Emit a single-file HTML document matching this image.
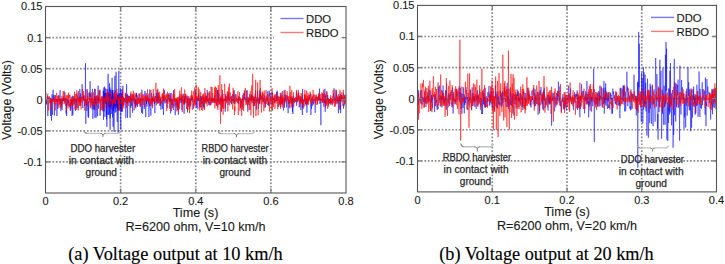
<!DOCTYPE html>
<html><head><meta charset="utf-8"><style>
html,body{margin:0;padding:0;background:#fff;}
body{width:725px;height:264px;overflow:hidden;}
svg{display:block;}
text{font-family:"Liberation Sans",sans-serif;fill:#1a1a1a;stroke:#1a1a1a;stroke-width:0.12px;}
.t11{font-size:11px;}
.t125{font-size:12.6px;}
.ylab{font-size:12.4px;}
.ann{font-size:10px;fill:#2a2a2a;stroke:#2a2a2a;stroke-width:0.25px;}
.cap{font-family:"Liberation Serif",serif;font-size:18px;fill:#000;stroke:#000;stroke-width:0.15px;}
</style></head><body>
<svg width="725" height="264" viewBox="0 0 725 264">
<rect width="725" height="264" fill="#fff"/>
<path d="M120.62 6.50V193.00M195.75 6.50V193.00M270.88 6.50V193.00M45.50 37.58H346.00M45.50 68.67H346.00M45.50 99.75H346.00M45.50 130.83H346.00M45.50 161.92H346.00" stroke="#8a8a8a" stroke-width="1.7" stroke-dasharray="1.7 1.75" fill="none"/>
<polyline points="103.0,98.9 103.1,104.0 103.3,97.0 103.4,97.3 103.6,96.9 103.7,96.0 103.9,91.3 104.0,98.2 104.1,111.3 104.3,100.3 104.4,94.3 104.6,96.4 104.7,99.2 104.9,98.3 105.0,116.9 105.1,97.4 105.3,93.1 105.4,101.1 105.6,93.2 105.7,97.1 105.9,103.4 106.0,100.7 106.1,103.7 106.3,102.1 106.4,92.9 106.6,119.3 106.7,105.8 106.9,101.0 107.0,99.2 107.1,114.9 107.3,102.3 107.4,99.7 107.6,89.3 107.7,90.2 107.9,94.6 108.0,96.5 108.1,100.9 108.3,97.7 108.4,92.6 108.6,111.7 108.7,115.1 108.9,98.1 109.0,97.7 109.1,99.6 109.3,107.7 109.4,93.8 109.6,101.7 109.7,91.4 109.9,87.6 110.0,97.8 110.1,118.4 110.3,90.3 110.4,106.9 110.6,99.3 110.7,105.2 110.9,105.0 111.0,95.6 111.1,89.5 111.3,98.4 111.4,98.1 111.6,106.6 111.7,114.0 111.9,107.3 112.0,96.2 112.1,99.4 112.3,105.7 112.4,99.9 112.6,90.0 112.7,108.7 112.9,90.1 113.0,99.1 113.1,126.8 113.3,98.6 113.4,110.7 113.6,96.5 113.7,106.3 113.9,103.3 114.0,107.3 114.1,96.9 114.3,93.6 114.4,94.3 114.6,106.2 114.7,98.8 114.9,99.4 115.0,110.6 115.1,112.8 115.3,98.1 115.4,100.4 115.6,97.8 115.7,101.6 115.9,111.9 116.0,96.5 116.1,99.8 116.3,104.9 116.4,97.8 116.6,104.7 116.7,99.5 116.9,102.3 117.0,95.0 117.1,119.3 117.3,122.0 117.4,103.4 117.6,94.9 117.7,100.3 117.9,111.1 118.0,99.1 118.1,105.6 118.3,99.1 118.4,109.9 118.6,95.1 118.7,101.8 118.9,105.7 119.0,104.5 119.1,93.0 119.3,97.7 119.4,94.4 119.6,103.7 119.7,97.0 119.9,96.8 120.0,109.5 120.1,99.0 120.3,88.2 120.4,101.5 120.6,96.8 120.7,109.4 120.9,96.9 121.0,93.5 121.1,110.9 121.3,109.0 121.4,102.2 121.6,111.7 121.7,94.2 121.9,94.3 122.0,98.9 122.1,93.0 122.3,111.7 122.4,107.6 122.6,91.8 122.7,96.4 122.9,103.4 123.0,98.2" stroke="#0000ff" stroke-width="0.55" stroke-opacity="0.9" fill="none"/>
<polyline points="45.5,102.6 45.8,92.3 46.1,103.1 46.4,100.7 46.6,104.5 46.9,99.5 47.2,100.2 47.5,96.3 47.8,116.0 48.1,104.8 48.4,99.2 48.6,97.6 48.9,99.1 49.2,99.7 49.5,102.5 49.8,103.2 50.1,103.0 50.4,98.0 50.6,116.0 50.9,108.4 51.2,98.6 51.5,120.8 51.8,95.5 52.1,94.2 52.4,114.8 52.6,99.7 52.9,92.6 53.2,89.7 53.5,100.1 53.8,95.3 54.1,99.5 54.4,115.5 54.6,99.4 54.9,99.4 55.2,95.0 55.5,97.3 55.8,100.8 56.1,100.4 56.4,99.4 56.6,99.0 56.9,116.0 57.2,101.5 57.5,99.0 57.8,108.9 58.1,100.3 58.4,99.0 58.6,95.3 58.9,98.7 59.2,100.2 59.5,101.1 59.8,98.4 60.1,90.2 60.4,103.8 60.6,99.1 60.9,111.1 61.2,98.9 61.5,106.1 61.8,100.8 62.1,109.9 62.4,98.1 62.6,99.9 62.9,101.0 63.2,101.2 63.5,97.0 63.8,100.7 64.1,99.5 64.4,103.6 64.6,96.9 64.9,92.2 65.2,99.7 65.5,98.0 65.8,99.2 66.1,113.8 66.4,101.9 66.6,116.0 66.9,105.3 67.2,99.3 67.5,99.8 67.8,105.5 68.1,99.9 68.4,102.9 68.6,101.6 68.9,100.1 69.2,106.1 69.5,106.1 69.8,107.2 70.1,101.8 70.4,110.7 70.6,102.3 70.9,109.2 71.2,96.7 71.5,103.9 71.8,100.1 72.1,116.0 72.4,95.7 72.6,106.0 72.9,114.8 73.2,100.2 73.5,99.9 73.8,97.7 74.1,96.0 74.4,104.3 74.6,98.8 74.9,101.4 75.2,99.0 75.5,110.9 75.8,102.5 76.1,101.6 76.4,99.1 76.6,107.5 76.9,93.1 77.2,97.0 77.5,99.3 77.8,108.3 78.1,105.6 78.4,98.7 78.6,97.9 78.9,99.0 79.2,96.7 79.5,101.5 79.8,89.0 80.1,99.5 80.4,93.3 80.6,105.6 80.9,101.5 81.2,99.7 81.5,97.8 81.8,94.2 82.1,84.2 82.4,96.5 82.6,104.6 82.9,108.0 83.2,95.7 83.5,97.5 83.8,99.7 84.1,95.1 84.4,98.6 84.6,106.0 84.9,104.8 85.2,102.4 85.5,63.2 85.8,123.8 86.1,99.2 86.4,104.9 86.6,102.2 86.9,110.9 87.2,89.1 87.5,95.9 87.8,106.5 88.1,116.8 88.4,101.0 88.6,117.8 88.9,103.8 89.2,101.8 89.5,92.6 89.8,99.4 90.1,81.2 90.4,97.3 90.6,93.6 90.9,93.8 91.2,101.9 91.5,99.2 91.8,103.6 92.1,109.4 92.4,89.0 92.6,88.8 92.9,118.8 93.2,101.6 93.5,105.1 93.8,109.5 94.1,98.4 94.4,109.6 94.6,88.8 94.9,117.8 95.2,96.6 95.5,103.8 95.8,96.3 96.1,117.8 96.4,102.4 96.6,96.7 96.9,95.4 97.2,96.9 97.5,116.3 97.8,98.6 98.1,85.8 98.4,108.7 98.6,97.4 98.9,100.9 99.2,90.2 99.5,94.2 99.8,99.0 100.1,115.8 100.4,102.1 100.6,100.3 100.9,100.4 101.2,98.7 101.5,97.0 101.8,98.0 102.1,96.9 102.4,101.0 102.6,105.7 102.9,111.3 103.2,90.5 103.5,119.8 103.8,87.5 104.1,102.4 104.4,101.6 104.6,86.6 104.9,101.9 105.2,97.9 105.5,88.5 105.8,89.9 106.1,103.8 106.4,99.6 106.6,108.8 106.9,126.8 107.2,105.3 107.5,105.3 107.8,98.4 108.1,73.8 108.4,106.1 108.6,94.4 108.9,98.5 109.2,114.2 109.5,83.2 109.8,100.3 110.1,129.8 110.4,97.3 110.6,95.2 110.9,93.9 111.2,109.3 111.5,98.5 111.8,91.3 112.1,77.8 112.4,95.2 112.6,117.4 112.9,109.4 113.2,93.5 113.5,107.0 113.8,126.8 114.1,131.8 114.4,110.5 114.6,89.1 114.9,75.8 115.2,109.1 115.5,90.6 115.8,91.7 116.1,71.8 116.4,99.7 116.6,107.8 116.9,101.8 117.2,92.8 117.5,108.3 117.8,94.9 118.1,132.8 118.4,109.3 118.6,78.2 118.9,70.8 119.2,97.9 119.5,99.4 119.8,96.8 120.1,102.0 120.4,106.1 120.6,126.7 120.9,129.8 121.2,89.6 121.5,106.3 121.8,100.1 122.1,98.8 122.4,98.8 122.6,95.0 122.9,85.8 123.2,103.7 123.5,97.6 123.8,105.4 124.1,101.5 124.4,98.1 124.6,98.4 124.9,100.6 125.2,102.4 125.5,93.4 125.8,117.8 126.1,100.2 126.4,97.2 126.6,84.1 126.9,103.6 127.2,93.9 127.5,117.8 127.8,95.6 128.1,95.3 128.4,98.7 128.6,96.4 128.9,102.8 129.2,97.0 129.5,95.9 129.8,107.7 130.1,117.8 130.4,93.9 130.6,100.4 130.9,107.8 131.2,97.8 131.5,105.8 131.8,104.5 132.1,93.7 132.4,101.3 132.6,112.8 132.9,99.6 133.2,98.4 133.5,95.6 133.8,96.4 134.1,100.2 134.4,104.0 134.6,97.8 134.9,98.8 135.2,106.9 135.5,99.4 135.8,108.4 136.1,93.6 136.4,97.4 136.6,92.8 136.9,105.3 137.2,101.8 137.5,106.9 137.8,97.4 138.1,100.3 138.4,99.4 138.6,96.3 138.9,94.9 139.2,93.5 139.5,101.0 139.8,99.4 140.1,106.4 140.4,98.4 140.6,102.0 140.9,97.8 141.2,106.1 141.5,112.7 141.8,89.6 142.1,93.0 142.4,98.2 142.6,113.8 142.9,98.6 143.2,97.9 143.5,97.7 143.8,100.9 144.1,107.9 144.4,109.0 144.6,100.7 144.9,90.9 145.2,99.9 145.5,103.8 145.8,117.1 146.1,93.0 146.4,103.8 146.6,99.4 146.9,106.5 147.2,100.2 147.5,100.5 147.8,95.4 148.1,101.0 148.4,103.5 148.6,97.7 148.9,117.0 149.2,103.2 149.5,106.2 149.8,89.6 150.1,108.6 150.4,109.4 150.6,108.8 150.9,115.6 151.2,103.5 151.5,93.1 151.8,97.5 152.1,106.5 152.4,97.8 152.6,98.8 152.9,101.5 153.2,99.5 153.5,100.4 153.8,93.7 154.1,99.5 154.4,104.1 154.6,99.6 154.9,113.2 155.2,101.1 155.5,96.1 155.8,98.9 156.1,100.7 156.4,101.6 156.6,92.9 156.9,101.2 157.2,89.8 157.5,103.7 157.8,97.1 158.1,100.0 158.4,93.2 158.6,103.4 158.9,101.3 159.2,95.4 159.5,99.7 159.8,102.0 160.1,105.9 160.4,99.1 160.6,98.2 160.9,109.7 161.2,104.7 161.5,101.3 161.8,100.5 162.1,99.8 162.4,108.8 162.6,99.4 162.9,94.7 163.2,97.1 163.5,114.8 163.8,92.0 164.1,93.5 164.4,89.8 164.6,92.8 164.9,103.5 165.2,100.6 165.5,98.3 165.8,99.4 166.1,102.8 166.4,101.9 166.6,99.3 166.9,102.7 167.2,108.2 167.5,99.7 167.8,94.8 168.1,96.5 168.4,99.8 168.6,93.4 168.9,96.0 169.2,102.0 169.5,98.4 169.8,102.1 170.1,98.6 170.4,94.6 170.6,113.4 170.9,94.7 171.2,92.9 171.5,99.2 171.8,105.0 172.1,99.0 172.4,108.2 172.6,99.4 172.9,99.1 173.2,97.7 173.5,90.1 173.8,103.0 174.1,106.4 174.4,97.9 174.6,97.7 174.9,102.1 175.2,115.2 175.5,104.6 175.8,99.7 176.1,101.6 176.4,99.3 176.6,102.9 176.9,107.5 177.2,100.5 177.5,110.0 177.8,101.7 178.1,100.4 178.4,114.7 178.6,105.2 178.9,100.7 179.2,96.2 179.5,99.4 179.8,103.5 180.1,101.5 180.4,98.1 180.6,100.3 180.9,100.4 181.2,103.1 181.5,96.8 181.8,109.9 182.1,106.9 182.4,100.3 182.6,101.2 182.9,100.9 183.2,93.6 183.5,97.0 183.8,99.6 184.1,113.8 184.4,96.1 184.6,104.3 184.9,101.7 185.2,94.2 185.5,99.0 185.8,99.2 186.1,96.9 186.4,97.3 186.6,96.9 186.9,96.3 187.2,96.0 187.5,112.5 187.8,97.6 188.1,103.6 188.4,105.3 188.6,102.4 188.9,106.9 189.2,98.0 189.5,103.0 189.8,102.6 190.1,101.9 190.4,98.5 190.6,104.7 190.9,104.8 191.2,95.3 191.5,96.9 191.8,99.3 192.1,97.5 192.4,100.0 192.6,97.4 192.9,98.6 193.2,98.9 193.5,108.7 193.8,103.8 194.1,101.8 194.4,100.7 194.6,102.8 194.9,100.1 195.2,100.2 195.5,90.5 195.8,98.9 196.1,98.6 196.4,107.8 196.6,98.2 196.9,97.1 197.2,99.9 197.5,98.7 197.8,109.3 198.1,97.9 198.4,101.0 198.6,93.1 198.9,94.4 199.2,97.9 199.5,107.0 199.8,100.5 200.1,100.5 200.4,99.6 200.6,96.0 200.9,107.6 201.2,96.1 201.5,103.8 201.8,98.0 202.1,99.0 202.4,96.2 202.6,99.2 202.9,103.5 203.2,101.3 203.5,107.2 203.8,99.0 204.1,108.7 204.4,100.9 204.6,100.1 204.9,101.7 205.2,97.6 205.5,97.1 205.8,100.7 206.1,99.5 206.4,95.7 206.6,100.9 206.9,100.5 207.2,89.9 207.5,101.9 207.8,101.4 208.1,97.8 208.4,102.6 208.6,101.3 208.9,105.0 209.2,102.2 209.5,103.7 209.8,91.1 210.1,95.4 210.4,97.1 210.6,101.8 210.9,105.1 211.2,99.0 211.5,100.6 211.8,97.8 212.1,102.9 212.4,102.7 212.6,99.2 212.9,99.7 213.2,98.1 213.5,100.8 213.8,100.0 214.1,102.7 214.4,95.3 214.6,99.3 214.9,99.6 215.2,103.1 215.5,100.8 215.8,100.1 216.1,99.2 216.4,100.4 216.6,105.9 216.9,99.6 217.2,98.5 217.5,90.0 217.8,102.1 218.1,90.1 218.4,101.9 218.6,99.6 218.9,93.5 219.2,98.3 219.5,98.2 219.8,99.9 220.1,104.8 220.4,99.0 220.6,97.5 220.9,101.9 221.2,98.5 221.5,111.7 221.8,99.6 222.1,96.8 222.4,101.2 222.6,106.7 222.9,93.6 223.2,101.5 223.5,101.4 223.8,99.1 224.1,100.5 224.4,99.2 224.6,99.1 224.9,98.7 225.2,111.7 225.5,94.2 225.8,98.4 226.1,96.4 226.4,98.8 226.6,99.2 226.9,101.5 227.2,96.2 227.5,98.5 227.8,92.0 228.1,104.8 228.4,93.1 228.6,98.7 228.9,100.1 229.2,101.1 229.5,97.7 229.8,98.3 230.1,99.6 230.4,97.2 230.6,98.7 230.9,97.6 231.2,96.3 231.5,104.3 231.8,99.3 232.1,100.9 232.4,98.3 232.6,94.1 232.9,98.8 233.2,99.1 233.5,99.8 233.8,102.7 234.1,90.2 234.4,103.7 234.6,100.6 234.9,103.6 235.2,94.1 235.5,97.0 235.8,98.2 236.1,99.6 236.4,98.6 236.6,98.8 236.9,98.3 237.2,100.4 237.5,99.0 237.8,98.6 238.1,100.3 238.4,104.0 238.6,96.4 238.9,98.4 239.2,99.6 239.5,99.6 239.8,97.3 240.1,98.7 240.4,99.7 240.6,107.7 240.9,100.8 241.2,99.2 241.5,103.1 241.8,101.4 242.1,109.9 242.4,103.3 242.6,98.3 242.9,100.9 243.2,93.9 243.5,93.1 243.8,100.3 244.1,98.7 244.4,90.3 244.6,99.2 244.9,96.6 245.2,99.8 245.5,98.4 245.8,102.2 246.1,102.6 246.4,102.7 246.6,90.4 246.9,101.3 247.2,101.1 247.5,104.0 247.8,111.6 248.1,100.4 248.4,102.2 248.6,98.5 248.9,104.7 249.2,99.0 249.5,98.7 249.8,97.8 250.1,99.6 250.4,100.1 250.6,99.4 250.9,95.7 251.2,100.4 251.5,94.2 251.8,100.8 252.1,95.4 252.4,96.3 252.6,96.3 252.9,101.2 253.2,106.4 253.5,97.5 253.8,104.2 254.1,106.1 254.4,99.4 254.6,96.7 254.9,99.2 255.2,102.9 255.5,90.5 255.8,96.6 256.1,97.0 256.4,109.5 256.6,99.9 256.9,99.4 257.2,101.0 257.5,90.5 257.8,98.7 258.1,97.6 258.4,98.5 258.6,105.6 258.9,98.8 259.2,103.2 259.5,90.5 259.8,104.0 260.1,95.4 260.4,99.2 260.6,92.4 260.9,97.9 261.2,98.7 261.5,97.5 261.8,97.1 262.1,99.1 262.4,98.5 262.6,99.6 262.9,93.8 263.2,99.5 263.5,102.1 263.8,100.6 264.1,98.0 264.4,95.3 264.6,100.0 264.9,103.6 265.2,100.9 265.5,107.0 265.8,101.9 266.1,96.3 266.4,99.7 266.6,99.4 266.9,101.4 267.2,101.1 267.5,99.7 267.8,91.2 268.1,102.5 268.4,105.5 268.6,101.6 268.9,106.2 269.2,90.6 269.5,91.7 269.8,96.5 270.1,93.3 270.4,97.5 270.6,98.4 270.9,103.7 271.2,101.4 271.5,98.6 271.8,93.5 272.1,91.8 272.4,96.2 272.6,104.7 272.9,96.7 273.2,99.5 273.5,98.6 273.8,99.8 274.1,98.4 274.4,102.6 274.6,100.6 274.9,101.2 275.2,100.2 275.5,101.8 275.8,99.1 276.1,96.5 276.4,100.9 276.6,92.0 276.9,99.2 277.2,90.7 277.5,97.1 277.8,97.0 278.1,103.3 278.4,106.9 278.6,102.3 278.9,100.2 279.2,96.7 279.5,96.9 279.8,98.5 280.1,103.1 280.4,97.8 280.6,97.1 280.9,103.1 281.2,92.6 281.5,102.1 281.8,96.2 282.1,104.8 282.4,101.7 282.6,100.3 282.9,97.9 283.2,106.7 283.5,110.4 283.8,105.9 284.1,90.4 284.4,107.6 284.6,100.9 284.9,102.1 285.2,94.2 285.5,101.0 285.8,100.0 286.1,95.4 286.4,100.8 286.6,107.4 286.9,102.9 287.2,95.3 287.5,98.5 287.8,99.6 288.1,113.2 288.4,99.4 288.6,101.7 288.9,103.6 289.2,100.1 289.5,100.7 289.8,108.3 290.1,100.6 290.4,98.1 290.6,98.5 290.9,96.8 291.2,103.6 291.5,99.2 291.8,96.3 292.1,99.3 292.4,111.6 292.6,98.4 292.9,114.1 293.2,95.8 293.5,98.6 293.8,100.4 294.1,102.1 294.4,98.2 294.6,102.8 294.9,101.6 295.2,100.9 295.5,101.2 295.8,101.2 296.1,96.3 296.4,91.4 296.6,105.7 296.9,97.9 297.2,98.1 297.5,102.3 297.8,101.3 298.1,96.3 298.4,98.1 298.6,92.7 298.9,98.0 299.2,107.4 299.5,103.7 299.8,100.2 300.1,99.5 300.4,101.8 300.6,96.3 300.9,110.0 301.2,99.9 301.5,97.7 301.8,97.8 302.1,104.7 302.4,115.0 302.6,88.9 302.9,107.6 303.2,105.2 303.5,99.5 303.8,102.0 304.1,100.9 304.4,99.0 304.6,99.3 304.9,95.4 305.2,100.6 305.5,104.1 305.8,101.1 306.1,105.6 306.4,99.3 306.6,99.8 306.9,112.7 307.2,99.7 307.5,103.2 307.8,100.3 308.1,101.4 308.4,100.3 308.6,99.3 308.9,97.4 309.2,94.9 309.5,98.0 309.8,99.0 310.1,97.1 310.4,93.6 310.6,93.6 310.9,115.0 311.2,102.1 311.5,108.7 311.8,98.0 312.1,100.5 312.4,105.7 312.6,100.5 312.9,99.7 313.2,101.4 313.5,104.4 313.8,99.6 314.1,99.5 314.4,100.3 314.6,98.5 314.9,104.5 315.2,112.8 315.5,102.9 315.8,98.1 316.1,95.4 316.4,98.3 316.6,97.6 316.9,97.9 317.2,100.0 317.5,100.0 317.8,97.2 318.1,98.9 318.4,98.2 318.6,97.6 318.9,95.2 319.2,99.7 319.5,88.7 319.8,103.8 320.1,101.8 320.4,98.2 320.6,104.0 320.9,125.2 321.2,103.0 321.5,99.6 321.8,98.8 322.1,94.5 322.4,93.3 322.6,101.3 322.9,100.1 323.2,93.9 323.5,101.5 323.8,106.7 324.1,100.0 324.4,100.0 324.6,103.3 324.9,88.8 325.2,111.9 325.5,96.9 325.8,95.3 326.1,104.8 326.4,91.5 326.6,94.7 326.9,95.1 327.2,97.8 327.5,99.3 327.8,95.3 328.1,100.3 328.4,104.7 328.6,99.4 328.9,101.4 329.2,103.4 329.5,99.0 329.8,103.2 330.1,100.3 330.4,97.6 330.6,97.9 330.9,104.8 331.2,102.8 331.5,101.9 331.8,100.2 332.1,100.6 332.4,99.0 332.6,99.2 332.9,103.8 333.2,102.0 333.5,93.6 333.8,96.8 334.1,88.3 334.4,95.7 334.6,101.1 334.9,96.9 335.2,100.0 335.5,101.9 335.8,102.3 336.1,103.4 336.4,91.7 336.6,97.5 336.9,95.0 337.2,101.4 337.5,99.9 337.8,103.5 338.1,98.4 338.4,113.2 338.6,94.2 338.9,94.6 339.2,100.7 339.5,96.6 339.8,106.2 340.1,110.0 340.4,95.8 340.6,113.2 340.9,101.3 341.2,95.3 341.5,98.8 341.8,97.1 342.1,98.6 342.4,99.3 342.6,98.7 342.9,101.2 343.2,92.7 343.5,108.5 343.8,104.0 344.1,105.7 344.4,104.6 344.6,94.7 344.9,100.0 345.2,101.8 345.5,98.8 345.8,101.8" stroke="#0000ff" stroke-width="0.55" stroke-opacity="0.9" fill="none"/>
<polyline points="45.5,101.8 45.7,96.3 45.9,99.7 46.1,100.8 46.3,103.5 46.5,102.3 46.7,99.3 46.9,100.3 47.1,99.9 47.3,100.0 47.5,98.5 47.7,93.9 47.9,99.9 48.1,97.5 48.3,110.5 48.5,99.4 48.7,99.3 48.9,96.7 49.1,96.0 49.3,100.3 49.5,98.1 49.7,96.9 49.9,98.2 50.1,103.8 50.3,110.5 50.5,98.4 50.7,103.4 50.9,99.4 51.1,101.2 51.3,105.0 51.5,99.8 51.7,101.5 51.9,99.0 52.1,101.3 52.3,100.1 52.5,100.4 52.7,99.6 52.9,101.1 53.1,99.6 53.3,99.0 53.5,101.8 53.7,101.8 53.9,100.3 54.1,98.3 54.3,104.1 54.5,99.7 54.7,95.1 54.9,98.9 55.1,99.9 55.3,110.5 55.5,97.5 55.7,101.0 55.9,105.4 56.1,100.6 56.3,101.8 56.5,100.7 56.7,92.7 56.9,100.8 57.1,100.8 57.3,102.0 57.5,95.9 57.7,98.7 57.9,103.4 58.1,100.2 58.3,98.0 58.5,101.6 58.7,102.3 58.9,107.7 59.1,95.2 59.3,102.6 59.5,104.7 59.7,98.4 59.9,104.0 60.1,99.8 60.3,107.1 60.5,106.9 60.7,102.2 60.9,98.2 61.1,98.4 61.3,108.3 61.5,102.2 61.7,100.2 61.9,95.9 62.1,98.9 62.3,101.0 62.5,99.3 62.7,100.9 62.9,104.3 63.1,91.1 63.3,99.7 63.5,97.9 63.7,96.3 63.9,98.9 64.1,90.7 64.3,98.3 64.5,99.0 64.7,100.5 64.9,101.9 65.1,99.2 65.3,102.7 65.5,98.8 65.7,105.8 65.9,100.6 66.1,95.2 66.3,103.3 66.5,110.5 66.7,96.1 66.9,95.6 67.1,97.6 67.3,98.6 67.5,100.6 67.7,98.8 67.9,94.6 68.1,108.4 68.3,101.3 68.5,92.6 68.7,100.2 68.9,105.6 69.1,94.9 69.3,96.7 69.5,98.1 69.7,98.2 69.9,94.6 70.1,99.0 70.3,110.5 70.5,99.9 70.7,106.3 70.9,101.2 71.1,98.6 71.3,106.1 71.5,100.5 71.7,99.7 71.9,99.7 72.1,100.3 72.3,98.6 72.5,99.1 72.7,106.0 72.9,100.1 73.1,97.3 73.3,102.1 73.5,104.8 73.7,96.6 73.9,96.6 74.1,101.4 74.3,95.8 74.5,91.6 74.7,105.9 74.9,109.6 75.1,98.0 75.3,102.7 75.5,94.0 75.7,99.5 75.9,99.5 76.1,99.7 76.3,100.1 76.5,102.8 76.7,110.0 76.9,90.3 77.1,100.6 77.3,97.7 77.5,95.3 77.7,97.3 77.9,98.9 78.1,102.7 78.3,110.5 78.5,91.2 78.7,100.9 78.9,102.6 79.1,99.7 79.3,101.8 79.5,105.3 79.7,98.4 79.9,106.0 80.1,97.7 80.3,102.8 80.5,98.3 80.7,101.3 80.9,100.2 81.1,109.4 81.3,98.8 81.5,100.1 81.7,96.6 81.9,102.3 82.1,97.0 82.3,98.6 82.5,89.0 82.7,97.5 82.9,99.2 83.1,99.0 83.3,98.3 83.5,91.0 83.7,101.0 83.9,101.3 84.1,96.5 84.3,96.2 84.5,100.7 84.7,110.5 84.9,99.2 85.1,100.8 85.3,98.9 85.5,103.0 85.7,96.9 85.9,89.7 86.1,91.0 86.3,97.8 86.5,103.7 86.7,100.6 86.9,103.8 87.1,103.2 87.3,95.8 87.5,98.6 87.7,106.7 87.9,101.3 88.1,92.4 88.3,94.0 88.5,98.6 88.7,98.1 88.9,99.6 89.1,98.6 89.3,100.2 89.5,98.2 89.7,102.7 89.9,99.3 90.1,106.0 90.3,108.2 90.5,98.3 90.7,107.4 90.9,102.3 91.1,100.7 91.3,92.3 91.5,96.7 91.7,105.5 91.9,96.5 92.1,99.7 92.3,98.3 92.5,100.0 92.7,102.1 92.9,105.6 93.1,102.3 93.3,93.8 93.5,92.5 93.7,104.8 93.9,102.8 94.1,99.0 94.3,104.8 94.5,102.1 94.7,103.3 94.9,96.4 95.1,98.7 95.3,99.3 95.5,89.0 95.7,96.8 95.9,110.4 96.1,100.4 96.3,106.0 96.5,99.0 96.7,96.3 96.9,102.4 97.1,104.1 97.3,95.4 97.5,95.3 97.7,99.2 97.9,96.7 98.1,99.4 98.3,98.1 98.5,102.4 98.7,102.1 98.9,92.3 99.1,93.3 99.3,91.0 99.5,101.0 99.7,103.2 99.9,99.0 100.1,89.6 100.3,99.1 100.5,105.2 100.7,110.5 100.9,101.6 101.1,98.5 101.3,109.9 101.5,96.3 101.7,99.0 101.9,99.5 102.1,101.8 102.3,108.3 102.5,96.2 102.7,104.5 102.9,110.5 103.1,103.3 103.3,99.2 103.5,97.9 103.7,99.0 103.9,100.4 104.1,101.0 104.3,103.4 104.5,98.0 104.7,100.5 104.9,107.5 105.1,96.4 105.3,97.3 105.5,101.0 105.7,99.2 105.9,95.6 106.1,92.8 106.3,100.0 106.5,102.7 106.7,97.2 106.9,89.0 107.1,92.2 107.3,100.8 107.5,100.6 107.7,98.8 107.9,99.2 108.1,109.1 108.3,96.3 108.5,99.9 108.7,99.3 108.9,101.6 109.1,99.1 109.3,92.2 109.5,95.6 109.7,98.6 109.9,101.6 110.1,105.5 110.3,99.5 110.5,100.9 110.7,91.9 110.9,101.0 111.1,99.2 111.3,100.7 111.5,100.7 111.7,100.1 111.9,100.3 112.1,104.0 112.3,101.6 112.5,101.4 112.7,107.5 112.9,99.4 113.1,103.5 113.3,100.7 113.5,97.7 113.7,99.5 113.9,100.6 114.1,103.3 114.3,91.9 114.5,103.5 114.7,96.0 114.9,92.8 115.1,101.6 115.3,104.1 115.5,98.6 115.7,95.6 115.9,93.2 116.1,98.2 116.3,95.8 116.5,99.3 116.7,100.2 116.9,89.0 117.1,97.8 117.3,98.6 117.5,99.4 117.7,98.8 117.9,100.2 118.1,103.8 118.3,105.1 118.5,98.9 118.7,110.5 118.9,95.7 119.1,104.7 119.3,99.5 119.5,110.5 119.7,99.4 119.9,95.4 120.1,97.7 120.3,99.1 120.5,98.0 120.7,99.2 120.9,99.4 121.1,97.7 121.3,103.9 121.5,103.6 121.7,99.2 121.9,98.1 122.1,93.5 122.3,110.5 122.5,89.0 122.7,106.8 122.9,104.5 123.1,96.5 123.3,105.8 123.5,97.2 123.7,102.9 123.9,108.6 124.1,101.0 124.3,98.9 124.5,102.1 124.7,99.5 124.9,100.4 125.1,100.3 125.3,93.0 125.5,100.5 125.7,98.1 125.9,100.4 126.1,101.1 126.3,101.9 126.5,107.9 126.7,99.8 126.9,100.1 127.1,94.8 127.3,103.7 127.5,101.7 127.7,101.7 127.9,96.0 128.1,103.0 128.3,106.1 128.5,97.3 128.7,100.4 128.9,100.0 129.1,99.3 129.3,96.7 129.5,101.6 129.7,98.2 129.9,99.9 130.1,100.1 130.3,96.5 130.5,102.3 130.7,99.0 130.9,91.6 131.1,97.6 131.3,104.5 131.5,104.3 131.7,97.3 131.9,97.1 132.1,95.3 132.3,99.3 132.5,94.1 132.7,96.3 132.9,99.0 133.1,97.7 133.3,90.6 133.5,99.7 133.7,101.9 133.9,94.4 134.1,110.5 134.3,102.0 134.5,98.6 134.7,99.8 134.9,92.8 135.1,96.8 135.3,96.1 135.5,95.3 135.7,102.6 135.9,105.7 136.1,100.4 136.3,101.2 136.5,104.8 136.7,99.4 136.9,100.9 137.1,101.4 137.3,94.8 137.5,104.3 137.7,99.4 137.9,100.2 138.1,98.2 138.3,103.7 138.5,100.2 138.7,100.6 138.9,104.1 139.1,97.0 139.3,93.7 139.5,102.5 139.7,98.8 139.9,103.3 140.1,98.5 140.3,106.9 140.5,100.4 140.7,105.8 140.9,92.6 141.1,100.8 141.3,98.8 141.5,100.3 141.7,94.3 141.9,95.5 142.1,96.7 142.3,102.5 142.5,102.0 142.7,99.4 142.9,94.9 143.1,104.1 143.3,105.0 143.5,100.9 143.7,94.4 143.9,95.7 144.1,97.0 144.3,97.8 144.5,106.9 144.7,102.8 144.9,97.8 145.1,96.5 145.3,101.1 145.5,100.2 145.7,94.9 145.9,100.3 146.1,96.7 146.3,100.0 146.5,100.5 146.7,95.8 146.9,98.1 147.1,100.6 147.3,93.0 147.5,89.4 147.7,100.1 147.9,98.3 148.1,101.6 148.3,99.0 148.5,102.6 148.7,97.2 148.9,93.5 149.1,102.2 149.3,99.3 149.5,101.5 149.7,98.9 149.9,100.6 150.1,100.9 150.3,106.2 150.5,101.4 150.7,102.5 150.9,89.9 151.1,104.3 151.3,98.1 151.5,99.9 151.7,99.0 151.9,100.0 152.1,103.4 152.3,96.3 152.5,108.2 152.7,105.0 152.9,105.5 153.1,95.1 153.3,88.9 153.5,101.5 153.7,97.5 153.9,97.5 154.1,96.3 154.3,101.1 154.5,97.8 154.7,101.7 154.9,102.1 155.1,101.3 155.3,102.1 155.5,102.9 155.7,101.3 155.9,82.8 156.1,92.1 156.3,101.1 156.5,105.4 156.7,97.1 156.9,97.1 157.1,97.3 157.3,96.7 157.5,101.0 157.7,97.0 157.9,88.7 158.1,101.5 158.3,102.6 158.5,92.2 158.7,97.5 158.9,96.8 159.1,103.0 159.3,97.5 159.5,97.1 159.7,91.8 159.9,102.0 160.1,105.6 160.3,103.8 160.5,101.6 160.7,96.6 160.9,102.4 161.1,101.2 161.3,104.2 161.5,100.9 161.7,97.1 161.9,98.6 162.1,93.8 162.3,98.4 162.5,97.1 162.7,93.2 162.9,101.1 163.1,94.6 163.3,101.7 163.5,88.5 163.7,95.3 163.9,100.0 164.1,100.2 164.3,101.7 164.5,101.9 164.7,95.2 164.9,99.7 165.1,96.7 165.3,99.5 165.5,99.6 165.7,96.5 165.9,94.6 166.1,98.3 166.3,93.5 166.5,94.2 166.7,111.1 166.9,104.3 167.1,103.4 167.3,99.2 167.5,91.8 167.7,98.8 167.9,103.9 168.1,99.9 168.3,99.3 168.5,97.4 168.7,98.4 168.9,94.7 169.1,100.6 169.3,98.7 169.5,108.7 169.7,100.6 169.9,92.9 170.1,98.4 170.3,100.2 170.5,102.0 170.7,97.8 170.9,98.1 171.1,101.9 171.3,100.4 171.5,111.2 171.7,101.0 171.9,99.4 172.1,105.3 172.3,103.0 172.5,101.2 172.7,102.2 172.9,95.3 173.1,94.1 173.3,103.0 173.5,110.0 173.7,99.0 173.9,93.8 174.1,100.3 174.3,101.6 174.5,100.4 174.7,89.2 174.9,98.1 175.1,99.3 175.3,101.0 175.5,100.2 175.7,98.2 175.9,106.2 176.1,97.8 176.3,102.2 176.5,104.6 176.7,99.7 176.9,111.4 177.1,97.3 177.3,105.0 177.5,98.5 177.7,99.5 177.9,97.3 178.1,99.7 178.3,100.7 178.5,111.1 178.7,97.4 178.9,107.5 179.1,103.3 179.3,109.2 179.5,100.8 179.7,90.6 179.9,101.4 180.1,94.2 180.3,94.0 180.5,99.3 180.7,97.6 180.9,100.5 181.1,100.5 181.3,87.3 181.5,99.7 181.7,96.9 181.9,94.1 182.1,98.6 182.3,112.1 182.5,95.3 182.7,101.9 182.9,95.7 183.1,101.3 183.3,100.0 183.5,104.3 183.7,102.8 183.9,101.2 184.1,104.6 184.3,100.0 184.5,97.8 184.7,89.6 184.9,97.1 185.1,99.2 185.3,103.4 185.5,93.7 185.7,101.0 185.9,102.7 186.1,97.0 186.3,99.9 186.5,109.0 186.7,100.7 186.9,94.7 187.1,101.6 187.3,101.0 187.5,99.5 187.7,99.6 187.9,110.2 188.1,96.8 188.3,96.1 188.5,99.4 188.7,100.9 188.9,103.0 189.1,98.3 189.3,99.2 189.5,113.2 189.7,101.4 189.9,109.3 190.1,96.4 190.3,99.5 190.5,106.5 190.7,104.5 190.9,100.3 191.1,99.7 191.3,95.4 191.5,97.4 191.7,90.6 191.9,100.7 192.1,100.4 192.3,109.8 192.5,95.4 192.7,100.6 192.9,102.0 193.1,100.7 193.3,91.1 193.5,91.7 193.7,94.9 193.9,98.5 194.1,100.6 194.3,106.3 194.5,88.8 194.7,87.4 194.9,104.1 195.1,98.3 195.3,97.2 195.5,104.9 195.7,94.9 195.9,106.1 196.1,84.5 196.3,87.7 196.5,96.2 196.7,98.5 196.9,96.1 197.1,96.2 197.3,100.7 197.5,98.1 197.7,98.6 197.9,95.6 198.1,90.3 198.3,87.2 198.5,98.2 198.7,95.0 198.9,100.6 199.1,89.2 199.3,99.3 199.5,101.5 199.7,110.7 199.9,98.1 200.1,99.5 200.3,107.3 200.5,97.9 200.7,91.7 200.9,101.7 201.1,99.6 201.3,98.9 201.5,110.1 201.7,105.0 201.9,101.5 202.1,104.7 202.3,101.5 202.5,100.5 202.7,110.8 202.9,94.3 203.1,101.5 203.3,93.5 203.5,102.6 203.7,95.3 203.9,99.4 204.1,100.5 204.3,97.0 204.5,109.9 204.7,99.0 204.9,88.1 205.1,99.1 205.3,92.9 205.5,102.5 205.7,96.1 205.9,103.7 206.1,97.3 206.3,103.5 206.5,100.1 206.7,97.7 206.9,98.2 207.1,106.3 207.3,101.9 207.5,93.0 207.7,99.9 207.9,100.8 208.1,100.1 208.3,92.4 208.5,93.2 208.7,100.3 208.9,98.7 209.1,101.5 209.3,105.5 209.5,98.7 209.7,92.8 209.9,100.2 210.1,100.8 210.3,97.7 210.5,105.2 210.7,99.1 210.9,97.0 211.1,86.7 211.3,99.4 211.5,98.8 211.7,103.4 211.9,101.7 212.1,87.0 212.3,101.6 212.5,95.1 212.7,92.9 212.9,99.3 213.1,101.4 213.3,98.5 213.5,100.2 213.7,102.5 213.9,98.1 214.1,100.6 214.3,102.6 214.5,87.4 214.7,100.1 214.9,108.4 215.1,102.8 215.3,97.9 215.5,86.5 215.7,101.4 215.9,89.7 216.1,105.3 216.3,102.7 216.5,87.8 216.7,94.6 216.9,101.4 217.1,100.1 217.3,105.0 217.5,107.5 217.7,97.5 217.9,109.9 218.1,98.1 218.3,85.1 218.5,98.9 218.7,104.9 218.9,101.1 219.1,103.6 219.3,100.5 219.5,99.3 219.7,103.7 219.9,75.2 220.1,108.0 220.3,110.7 220.5,123.8 220.7,98.2 220.9,96.2 221.1,109.2 221.3,110.7 221.5,99.6 221.7,84.3 221.9,97.6 222.1,94.8 222.3,108.5 222.5,89.9 222.7,104.2 222.9,97.2 223.1,114.7 223.3,99.8 223.5,99.1 223.7,109.0 223.9,102.0 224.1,98.6 224.3,99.5 224.5,101.1 224.7,83.8 224.9,91.4 225.1,93.7 225.3,108.4 225.5,97.6 225.7,100.9 225.9,96.6 226.1,98.2 226.3,98.2 226.5,103.3 226.7,99.8 226.9,98.7 227.1,91.9 227.3,91.1 227.5,98.0 227.7,100.5 227.9,111.4 228.1,100.9 228.3,95.0 228.5,100.0 228.7,87.1 228.9,100.2 229.1,98.7 229.3,83.5 229.5,101.0 229.7,105.5 229.9,100.6 230.1,97.6 230.3,92.4 230.5,97.1 230.7,102.6 230.9,100.3 231.1,102.9 231.3,96.9 231.5,95.8 231.7,98.7 231.9,98.8 232.1,100.6 232.3,99.5 232.5,100.1 232.7,109.4 232.9,102.0 233.1,87.8 233.3,93.6 233.5,99.4 233.7,100.8 233.9,90.9 234.1,103.6 234.3,97.0 234.5,115.0 234.7,106.3 234.9,111.3 235.1,106.6 235.3,99.6 235.5,101.6 235.7,99.9 235.9,97.2 236.1,97.5 236.3,94.5 236.5,101.0 236.7,102.0 236.9,99.1 237.1,98.8 237.3,102.9 237.5,102.9 237.7,97.8 237.9,91.2 238.1,101.3 238.3,115.0 238.5,96.3 238.7,99.4 238.9,100.8 239.1,99.1 239.3,98.2 239.5,92.2 239.7,105.2 239.9,110.8 240.1,100.7 240.3,97.8 240.5,107.8 240.7,108.4 240.9,104.0 241.1,104.3 241.3,98.7 241.5,99.3 241.7,115.7 241.9,101.3 242.1,101.6 242.3,105.9 242.5,95.1 242.7,98.7 242.9,99.2 243.1,108.8 243.3,100.8 243.5,97.2 243.7,111.0 243.9,103.7 244.1,97.8 244.3,99.1 244.5,92.6 244.7,95.7 244.9,95.6 245.1,93.4 245.3,87.9 245.5,100.6 245.7,101.7 245.9,105.1 246.1,104.5 246.3,101.2 246.5,101.0 246.7,102.9 246.9,104.5 247.1,100.3 247.3,90.4 247.5,105.8 247.7,97.1 247.9,99.2 248.1,97.1 248.3,100.9 248.5,98.3 248.7,99.0 248.9,99.3 249.1,110.0 249.3,104.9 249.5,94.0 249.7,100.0 249.9,98.1 250.1,109.9 250.3,90.8 250.5,100.9 250.7,98.5 250.9,115.3 251.1,107.8 251.3,99.0 251.5,101.3 251.7,85.4 251.9,95.0 252.1,103.1 252.3,96.0 252.5,100.8 252.7,73.8 252.9,98.3 253.1,95.9 253.3,96.5 253.5,117.8 253.7,100.0 253.9,100.3 254.1,104.2 254.3,102.9 254.5,102.2 254.7,97.8 254.9,105.9 255.1,93.7 255.3,98.3 255.5,96.0 255.7,79.8 255.9,116.2 256.1,100.2 256.3,100.6 256.5,99.0 256.7,101.8 256.9,100.6 257.1,97.3 257.3,103.3 257.5,94.4 257.7,82.3 257.9,108.3 258.1,115.4 258.3,105.2 258.5,108.8 258.7,101.8 258.9,104.2 259.1,102.2 259.3,96.1 259.5,93.8 259.7,102.9 259.9,92.0 260.1,79.9 260.3,98.2 260.5,87.9 260.7,99.3 260.9,93.7 261.1,99.6 261.3,104.7 261.5,112.5 261.7,95.5 261.9,101.7 262.1,104.5 262.3,91.4 262.5,102.1 262.7,100.5 262.9,92.5 263.1,94.3 263.3,98.9 263.5,97.9 263.7,107.3 263.9,111.2 264.1,98.3 264.3,90.6 264.5,98.9 264.7,104.6 264.9,108.1 265.1,101.0 265.3,98.0 265.5,101.3 265.7,101.2 265.9,100.8 266.1,90.0 266.3,104.0 266.5,100.7 266.7,98.4 266.9,100.0 267.1,99.3 267.3,96.0 267.5,94.6 267.7,105.0 267.9,98.9 268.1,99.8 268.3,100.5 268.5,99.9 268.7,97.9 268.9,93.8 269.1,103.8 269.3,106.5 269.5,111.5 269.7,97.7 269.9,99.3 270.1,103.5 270.3,97.4 270.5,98.0 270.7,99.5 270.9,99.0 271.1,97.8 271.3,100.5 271.5,109.9 271.7,108.1 271.9,99.8 272.1,88.3 272.3,104.0 272.5,110.7 272.7,92.9 272.9,99.9 273.1,98.1 273.3,98.6 273.5,107.0 273.7,102.2 273.9,101.3 274.1,103.3 274.3,95.9 274.5,102.1 274.7,94.8 274.9,108.8 275.1,104.8 275.3,94.1 275.5,97.9 275.7,99.0 275.9,98.9 276.1,103.5 276.3,103.4 276.5,96.7 276.7,97.9 276.9,95.5 277.1,93.0 277.3,101.5 277.5,97.9 277.7,109.3 277.9,100.2 278.1,95.7 278.3,100.1 278.5,98.3 278.7,96.6 278.9,102.1 279.1,104.1 279.3,99.2 279.5,100.8 279.7,104.8 279.9,100.4 280.1,106.6 280.3,92.9 280.5,108.8 280.7,95.1 280.9,106.9 281.1,102.7 281.3,97.3 281.5,104.1 281.7,102.9 281.9,94.9 282.1,103.6 282.3,92.6 282.5,91.0 282.7,101.7 282.9,107.6 283.1,98.6 283.3,97.8 283.5,98.6 283.7,102.3 283.9,99.4 284.1,95.9 284.3,94.8 284.5,105.1 284.7,102.3 284.9,100.2 285.1,89.8 285.3,100.5 285.5,100.5 285.7,99.7 285.9,97.0 286.1,103.4 286.3,97.4 286.5,98.2 286.7,98.1 286.9,99.1 287.1,91.3 287.3,94.6 287.5,96.8 287.7,98.3 287.9,96.4 288.1,98.3 288.3,97.6 288.5,100.3 288.7,102.4 288.9,96.0 289.1,107.7 289.3,99.8 289.5,95.6 289.7,96.4 289.9,85.8 290.1,103.3 290.3,92.0 290.5,100.1 290.7,101.1 290.9,97.4 291.1,102.4 291.3,107.3 291.5,101.0 291.7,89.8 291.9,99.7 292.1,104.3 292.3,98.0 292.5,98.8 292.7,103.4 292.9,104.5 293.1,98.6 293.3,99.9 293.5,92.2 293.7,107.2 293.9,103.6 294.1,102.9 294.3,98.9 294.5,100.8 294.7,100.5 294.9,98.4 295.1,101.4 295.3,96.8 295.5,99.5 295.7,100.1 295.9,102.1 296.1,99.7 296.3,100.5 296.5,98.3 296.7,89.8 296.9,100.0 297.1,93.3 297.3,98.7 297.5,101.4 297.7,98.1 297.9,100.7 298.1,100.7 298.3,90.3 298.5,89.8 298.7,98.8 298.9,95.0 299.1,98.8 299.3,95.9 299.5,96.3 299.7,106.8 299.9,97.9 300.1,99.7 300.3,103.2 300.5,97.5 300.7,103.5 300.9,103.8 301.1,93.1 301.3,102.8 301.5,96.8 301.7,97.5 301.9,102.8 302.1,93.9 302.3,93.1 302.5,104.3 302.7,101.2 302.9,101.9 303.1,99.7 303.3,108.8 303.5,108.8 303.7,108.8 303.9,100.3 304.1,106.6 304.3,102.3 304.5,94.3 304.7,100.4 304.9,89.8 305.1,99.9 305.3,101.3 305.5,94.5 305.7,101.8 305.9,99.8 306.1,98.2 306.3,101.1 306.5,90.6 306.7,104.6 306.9,97.6 307.1,100.5 307.3,104.5 307.5,96.0 307.7,104.0 307.9,92.7 308.1,100.2 308.3,104.9 308.5,103.0 308.7,97.0 308.9,99.7 309.1,94.5 309.3,97.5 309.5,97.1 309.7,100.7 309.9,100.6 310.1,91.6 310.3,100.4 310.5,101.2 310.7,99.8 310.9,102.3 311.1,99.6 311.3,104.8 311.5,100.5 311.7,94.5 311.9,96.5 312.1,100.1 312.3,97.4 312.5,99.1 312.7,96.3 312.9,98.4 313.1,89.8 313.3,98.9 313.5,103.6 313.7,97.2 313.9,94.5 314.1,98.1 314.3,94.7 314.5,98.0 314.7,100.6 314.9,99.6 315.1,102.4 315.3,99.1 315.5,97.0 315.7,98.6 315.9,104.7 316.1,94.3 316.3,98.3 316.5,100.3 316.7,100.4 316.9,96.5 317.1,105.0 317.3,99.0 317.5,101.4 317.7,104.1 317.9,98.2 318.1,96.7 318.3,101.0 318.5,93.7 318.7,98.8 318.9,98.7 319.1,92.7 319.3,99.2 319.5,96.9 319.7,99.6 319.9,97.7 320.1,98.4 320.3,94.2 320.5,99.1 320.7,102.9 320.9,100.5 321.1,99.8 321.3,99.1 321.5,100.1 321.7,101.1 321.9,92.3 322.1,95.2 322.3,101.7 322.5,103.1 322.7,95.6 322.9,94.5 323.1,101.3 323.3,102.7 323.5,89.8 323.7,99.9 323.9,101.2 324.1,97.5 324.3,96.2 324.5,93.1 324.7,97.4 324.9,94.0 325.1,99.2 325.3,107.6 325.5,98.3 325.7,100.4 325.9,99.6 326.1,99.9 326.3,99.3 326.5,105.9 326.7,100.5 326.9,104.1 327.1,91.6 327.3,97.0 327.5,94.9 327.7,108.8 327.9,98.8 328.1,101.9 328.3,98.1 328.5,106.6 328.7,106.5 328.9,99.0 329.1,99.2 329.3,100.5 329.5,99.2 329.7,103.0 329.9,101.3 330.1,100.9 330.3,103.9 330.5,101.8 330.7,95.1 330.9,103.3 331.1,98.4 331.3,97.9 331.5,101.8 331.7,103.3 331.9,102.0 332.1,99.0 332.3,105.3 332.5,99.9 332.7,96.3 332.9,98.6 333.1,90.0 333.3,94.9 333.5,98.5 333.7,102.8 333.9,101.4 334.1,99.8 334.3,100.3 334.5,101.1 334.7,107.0 334.9,99.1 335.1,98.8 335.3,106.2 335.5,102.7 335.7,89.8 335.9,100.2 336.1,104.3 336.3,98.5 336.5,89.8 336.7,97.2 336.9,99.8 337.1,102.1 337.3,97.0 337.5,98.5 337.7,100.5 337.9,96.1 338.1,96.9 338.3,103.0 338.5,100.8 338.7,100.7 338.9,100.4 339.1,96.6 339.3,96.7 339.5,100.7 339.7,108.8 339.9,89.8 340.1,99.3 340.3,100.3 340.5,94.1 340.7,94.3 340.9,99.8 341.1,92.2 341.3,101.8 341.5,95.2 341.7,100.4 341.9,98.4 342.1,95.1 342.3,98.8 342.5,97.3 342.7,102.7 342.9,106.1 343.1,89.8 343.3,89.8 343.5,100.2 343.7,98.9 343.9,97.4 344.1,99.2 344.3,100.0 344.5,104.1 344.7,96.0 344.9,97.9 345.1,95.6 345.3,104.0 345.5,101.8 345.7,98.5 345.9,94.2" stroke="#ff0000" stroke-width="0.6" stroke-opacity="0.88" fill="none"/>
<rect x="274.0" y="10.0" width="69.0" height="33.0" fill="#fff"/>
<path d="M280.5 18.5H303.5" stroke="#7878ff" stroke-width="1.4"/>
<path d="M280.5 32.5H303.5" stroke="#ff7878" stroke-width="1.4"/>
<text x="306.0" y="22.8" class="t11" style="font-size:11.3px">DDO</text>
<text x="306.0" y="36.8" class="t11" style="font-size:11.3px">RBDO</text>
<path d="M120.62 6.50v4.5M120.62 193.00v-4.5M195.75 6.50v4.5M195.75 193.00v-4.5M270.88 6.50v4.5M270.88 193.00v-4.5M45.50 37.58h4.5M346.00 37.58h-4.5M45.50 68.67h4.5M346.00 68.67h-4.5M45.50 99.75h4.5M346.00 99.75h-4.5M45.50 130.83h4.5M346.00 130.83h-4.5M45.50 161.92h4.5M346.00 161.92h-4.5" stroke="#808080" stroke-width="1.3" fill="none"/>
<rect x="45.50" y="6.50" width="300.50" height="186.50" stroke="#555" stroke-width="1.1" fill="none"/>
<text x="42.5" y="10.4" class="t11" text-anchor="end">0.15</text>
<text x="42.5" y="41.5" class="t11" text-anchor="end">0.1</text>
<text x="42.5" y="72.6" class="t11" text-anchor="end">0.05</text>
<text x="42.5" y="103.7" class="t11" text-anchor="end">0</text>
<text x="42.5" y="134.7" class="t11" text-anchor="end">-0.05</text>
<text x="42.5" y="165.8" class="t11" text-anchor="end">-0.1</text>
<text x="45.5" y="204.5" class="t11" text-anchor="middle">0</text>
<text x="120.6" y="204.5" class="t11" text-anchor="middle">0.2</text>
<text x="195.8" y="204.5" class="t11" text-anchor="middle">0.4</text>
<text x="270.9" y="204.5" class="t11" text-anchor="middle">0.6</text>
<text x="346.0" y="204.5" class="t11" text-anchor="middle">0.8</text>
<path d="M492.25 5.40V191.90M567.00 5.40V191.90M641.75 5.40V191.90M417.50 36.48H716.50M417.50 67.57H716.50M417.50 98.65H716.50M417.50 129.73H716.50M417.50 160.82H716.50" stroke="#8a8a8a" stroke-width="1.7" stroke-dasharray="1.7 1.75" fill="none"/>
<polyline points="417.5,94.9 417.8,92.2 418.1,96.8 418.4,90.2 418.7,104.7 419.0,98.8 419.3,100.2 419.6,99.6 419.9,98.5 420.1,97.2 420.4,90.5 420.7,103.4 421.0,101.1 421.3,98.6 421.6,90.0 421.9,91.2 422.2,104.6 422.5,96.9 422.8,98.1 423.1,97.4 423.4,98.0 423.7,101.9 424.0,98.4 424.3,107.0 424.6,94.6 424.9,94.8 425.1,89.6 425.4,103.4 425.7,103.3 426.0,97.2 426.3,96.5 426.6,98.3 426.9,104.4 427.2,98.5 427.5,97.5 427.8,92.0 428.1,97.4 428.4,95.9 428.7,102.4 429.0,89.4 429.3,90.4 429.6,95.0 429.9,101.7 430.1,105.4 430.4,111.0 430.7,90.5 431.0,94.4 431.3,102.5 431.6,95.1 431.9,100.7 432.2,97.8 432.5,108.2 432.8,98.9 433.1,94.6 433.4,94.6 433.7,96.8 434.0,98.8 434.3,104.3 434.6,112.1 434.9,99.9 435.1,94.0 435.4,106.2 435.7,104.5 436.0,95.7 436.3,102.5 436.6,100.1 436.9,106.9 437.2,110.0 437.5,104.6 437.8,106.3 438.1,109.0 438.4,86.7 438.7,95.5 439.0,97.4 439.3,92.3 439.6,85.5 439.9,102.9 440.1,99.7 440.4,97.1 440.7,95.9 441.0,100.1 441.3,99.1 441.6,96.4 441.9,107.4 442.2,90.8 442.5,95.4 442.8,98.8 443.1,85.5 443.4,101.9 443.7,95.9 444.0,105.0 444.3,98.9 444.6,103.4 444.9,102.2 445.1,101.5 445.4,91.4 445.7,90.2 446.0,95.1 446.3,109.8 446.6,83.8 446.9,90.4 447.2,94.6 447.5,99.4 447.8,99.3 448.1,103.6 448.4,99.2 448.7,93.5 449.0,97.0 449.3,95.3 449.6,106.0 449.9,103.0 450.1,94.8 450.4,93.7 450.7,95.7 451.0,91.9 451.3,104.2 451.6,103.6 451.9,107.3 452.2,98.3 452.5,87.4 452.8,92.8 453.1,113.6 453.4,100.3 453.7,91.8 454.0,100.6 454.3,99.3 454.6,99.1 454.9,104.3 455.1,99.6 455.4,101.9 455.7,100.3 456.0,102.2 456.3,98.9 456.6,88.9 456.9,96.5 457.2,92.2 457.5,93.4 457.8,100.7 458.1,99.2 458.4,95.6 458.7,90.4 459.0,86.7 459.3,86.3 459.6,101.8 459.9,91.9 460.1,97.0 460.4,87.8 460.7,98.3 461.0,109.0 461.3,93.4 461.6,96.2 461.9,113.7 462.2,96.7 462.5,93.9 462.8,95.5 463.1,107.9 463.4,87.3 463.7,97.9 464.0,98.8 464.3,113.3 464.6,95.9 464.9,105.0 465.1,97.2 465.4,103.1 465.7,100.8 466.0,87.0 466.3,93.1 466.6,96.1 466.9,99.0 467.2,96.9 467.5,101.8 467.8,110.1 468.1,92.9 468.4,101.3 468.7,100.1 469.0,104.8 469.3,98.3 469.6,97.2 469.9,100.8 470.1,100.9 470.4,93.4 470.7,90.1 471.0,100.2 471.3,101.9 471.6,109.6 471.9,101.0 472.2,87.4 472.5,106.0 472.8,102.9 473.1,93.0 473.4,100.5 473.7,101.1 474.0,96.1 474.3,101.0 474.6,97.3 474.9,107.0 475.1,94.1 475.4,96.0 475.7,95.4 476.0,106.3 476.3,108.9 476.6,95.5 476.9,98.1 477.2,96.3 477.5,90.3 477.8,102.4 478.1,105.2 478.4,95.3 478.7,101.0 479.0,101.9 479.3,102.7 479.6,98.4 479.9,89.3 480.1,96.5 480.4,99.4 480.7,107.0 481.0,99.0 481.3,98.4 481.6,114.0 481.9,107.0 482.2,99.6 482.5,114.0 482.8,105.3 483.1,91.6 483.4,104.3 483.7,94.0 484.0,92.9 484.3,105.1 484.6,96.8 484.9,107.7 485.1,87.9 485.4,107.6 485.7,100.6 486.0,100.8 486.3,100.4 486.6,102.6 486.9,106.9 487.2,98.5 487.5,102.5 487.8,92.2 488.1,97.5 488.4,97.3 488.7,91.0 489.0,85.9 489.3,99.8 489.6,105.6 489.9,93.7 490.1,99.8 490.4,101.9 490.7,95.0 491.0,104.7 491.3,97.0 491.6,91.2 491.9,97.7 492.2,108.7 492.5,102.2 492.8,93.9 493.1,90.6 493.4,98.3 493.7,97.0 494.0,105.9 494.3,110.8 494.6,101.2 494.9,99.2 495.1,96.3 495.4,85.4 495.7,98.1 496.0,91.6 496.3,107.2 496.6,103.1 496.9,94.2 497.2,98.4 497.5,108.5 497.8,91.5 498.1,91.6 498.4,104.4 498.7,96.7 499.0,99.6 499.3,99.9 499.6,105.0 499.9,102.6 500.1,105.3 500.4,91.7 500.7,97.2 501.0,94.6 501.3,107.2 501.6,92.7 501.9,93.6 502.2,106.1 502.5,91.1 502.8,102.8 503.1,103.0 503.4,96.7 503.7,92.8 504.0,94.1 504.3,87.9 504.6,95.0 504.9,97.9 505.1,100.6 505.4,102.0 505.7,99.2 506.0,105.1 506.3,107.0 506.6,104.2 506.9,103.9 507.2,82.9 507.5,102.6 507.8,106.9 508.1,95.8 508.4,101.4 508.7,109.2 509.0,88.7 509.3,101.6 509.6,101.7 509.9,105.3 510.1,104.4 510.4,90.9 510.7,104.8 511.0,100.6 511.3,104.8 511.6,105.8 511.9,93.0 512.2,102.4 512.5,95.4 512.8,113.4 513.1,96.1 513.4,93.8 513.7,94.5 514.0,100.0 514.3,104.0 514.6,95.0 514.9,95.4 515.1,94.6 515.4,99.2 515.7,103.9 516.0,108.5 516.3,94.1 516.6,100.6 516.9,101.5 517.2,89.4 517.5,96.2 517.8,91.4 518.1,97.6 518.4,101.8 518.7,92.6 519.0,107.1 519.3,98.5 519.6,101.1 519.9,98.7 520.1,94.9 520.4,93.2 520.7,105.7 521.0,100.6 521.3,94.5 521.6,96.4 521.9,98.7 522.2,106.7 522.5,96.6 522.8,110.0 523.1,108.8 523.4,91.3 523.7,94.3 524.0,92.9 524.3,92.8 524.6,98.9 524.9,100.9 525.1,107.2 525.4,104.4 525.7,93.0 526.0,99.9 526.3,102.9 526.6,102.0 526.9,96.9 527.2,94.5 527.5,87.8 527.8,93.7 528.1,100.3 528.4,94.8 528.7,90.2 529.0,91.1 529.3,97.5 529.6,94.8 529.9,94.5 530.1,105.4 530.4,100.5 530.7,103.0 531.0,107.5 531.3,100.6 531.6,99.4 531.9,90.6 532.2,96.6 532.5,100.0 532.8,98.6 533.1,104.4 533.4,99.1 533.7,87.8 534.0,95.3 534.3,95.6 534.6,106.8 534.9,100.6 535.1,89.3 535.4,100.4 535.7,105.9 536.0,94.7 536.3,102.1 536.6,104.1 536.9,101.2 537.2,96.1 537.5,91.7 537.8,101.9 538.1,114.8 538.4,104.6 538.7,102.2 539.0,92.6 539.3,104.6 539.6,111.0 539.9,103.6 540.1,90.2 540.4,95.2 540.7,92.1 541.0,86.8 541.3,91.7 541.6,93.9 541.9,104.4 542.2,94.2 542.5,104.2 542.8,95.8 543.1,91.9 543.4,110.4 543.7,90.6 544.0,96.8 544.3,87.8 544.6,100.1 544.9,96.3 545.1,108.2 545.4,103.8 545.7,99.5 546.0,104.3 546.3,102.9 546.6,99.3 546.9,99.8 547.2,96.3 547.5,94.8 547.8,107.5 548.1,110.5 548.4,94.4 548.7,99.8 549.0,103.0 549.3,97.0 549.6,104.5 549.9,97.7 550.1,104.2 550.4,95.6 550.7,100.8 551.0,98.5 551.3,103.4 551.6,125.7 551.9,96.2 552.2,92.6 552.5,100.8 552.8,100.7 553.1,95.1 553.4,94.1 553.7,93.2 554.0,103.6 554.3,103.9 554.6,111.4 554.9,97.4 555.1,96.7 555.4,104.3 555.7,104.8 556.0,98.4 556.3,97.7 556.6,93.0 556.9,105.2 557.2,103.4 557.5,91.5 557.8,100.8 558.1,100.8 558.4,81.7 558.7,96.5 559.0,102.6 559.3,101.9 559.6,94.0 559.9,86.6 560.1,97.5 560.4,106.3 560.7,101.2 561.0,102.0 561.3,111.6 561.6,100.0 561.9,100.1 562.2,99.3 562.5,101.8 562.8,94.2 563.1,97.6 563.4,109.3 563.7,100.2 564.0,102.3 564.3,108.7 564.6,109.2 564.9,97.0 565.1,106.6 565.4,107.5 565.7,98.0 566.0,95.3 566.3,108.1 566.6,110.2 566.9,103.4 567.2,97.7 567.5,98.8 567.8,97.0 568.1,96.5 568.4,85.7 568.7,88.0 569.0,103.0 569.3,95.0 569.6,94.7 569.9,100.5 570.1,93.2 570.4,94.1 570.7,88.3 571.0,95.4 571.3,102.1 571.6,104.2 571.9,101.6 572.2,98.2 572.5,98.0 572.8,97.6 573.1,102.1 573.4,110.2 573.7,100.5 574.0,100.8 574.3,101.4 574.6,92.2 574.9,96.9 575.1,103.0 575.4,96.6 575.7,94.3 576.0,98.2 576.3,93.8 576.6,96.5 576.9,94.5 577.2,90.4 577.5,110.0 577.8,97.6 578.1,95.0 578.4,107.9 578.7,100.4 579.0,97.0 579.3,97.4 579.6,111.0 579.9,117.2 580.1,95.9 580.4,109.1 580.7,103.6 581.0,105.3 581.3,92.4 581.6,84.2 581.9,97.5 582.2,91.2 582.5,92.1 582.8,95.1 583.1,96.9 583.4,91.3 583.7,95.1 584.0,97.0 584.3,98.1 584.6,113.4 584.9,98.2 585.1,95.5 585.4,101.1 585.7,91.1 586.0,99.0 586.3,97.7 586.6,104.0 586.9,81.2 587.2,99.4 587.5,102.6 587.8,94.0 588.1,105.1 588.4,101.2 588.7,117.4 589.0,92.0 589.3,106.4 589.6,104.0 589.9,96.8 590.1,104.2 590.4,88.8 590.7,92.4 591.0,97.8 591.3,111.6 591.6,96.7 591.9,101.6 592.2,92.3 592.5,106.2 592.8,105.4 593.1,93.4 593.4,93.6 593.7,68.7 594.0,108.2 594.3,142.1 594.6,101.9 594.9,100.0 595.1,103.4 595.4,96.7 595.7,97.3 596.0,100.6 596.3,104.3 596.6,97.5 596.9,101.1 597.2,92.7 597.5,106.7 597.8,94.3 598.1,95.8 598.4,90.9 598.7,91.2 599.0,106.7 599.3,92.5 599.6,100.6 599.9,85.6 600.1,106.2 600.4,95.7 600.7,95.9 601.0,98.2 601.3,98.4 601.6,87.7 601.9,96.9 602.2,107.4 602.5,101.4 602.8,96.4 603.1,88.4 603.4,104.2 603.7,92.1 604.0,81.0 604.3,113.7 604.6,96.5 604.9,102.9 605.1,87.8 605.4,99.8 605.7,83.3 606.0,105.4 606.3,105.9 606.6,91.7 606.9,100.2 607.2,98.6 607.5,108.9 607.8,92.7 608.1,101.6 608.4,95.3 608.7,108.0 609.0,104.6 609.3,108.2 609.6,101.7 609.9,92.6 610.1,92.3 610.4,99.4 610.7,93.3 611.0,95.9 611.3,95.1 611.6,107.5 611.9,114.0 612.2,97.9 612.5,113.3 612.8,88.6 613.1,94.3 613.4,91.6 613.7,97.1 614.0,98.0 614.3,94.9 614.6,97.1 614.9,98.8 615.1,103.4 615.4,101.6 615.7,104.4 616.0,95.0 616.3,92.8 616.6,105.1 616.9,101.1 617.2,100.2 617.5,98.2 617.8,96.1 618.1,99.0 618.4,105.2 618.7,105.5 619.0,99.6 619.3,105.6 619.6,100.7 619.9,118.2 620.1,103.7 620.4,87.7 620.7,100.1 621.0,98.4 621.3,98.7 621.6,88.2 621.9,89.4 622.2,104.2 622.5,99.4 622.8,95.7 623.1,85.2 623.4,101.5 623.7,85.9 624.0,96.1 624.3,87.0 624.6,111.4 624.9,106.7 625.1,103.4 625.4,91.7 625.7,111.3 626.0,103.0 626.3,95.9 626.6,93.4 626.9,71.7 627.2,91.4 627.5,86.7 627.8,106.1 628.1,100.5 628.4,92.2 628.7,96.1 629.0,98.1 629.3,95.6 629.6,101.3 629.9,108.5 630.1,106.4 630.4,110.4 630.7,95.9 631.0,89.4 631.3,109.5 631.6,100.5 631.9,94.1 632.2,98.0 632.5,97.2 632.8,93.7 633.1,96.3 633.4,101.7 633.7,95.0 634.0,74.7 634.3,96.2 634.6,94.6 634.9,97.0 635.1,101.2 635.4,97.4 635.7,96.1 636.0,96.4 636.3,115.5 636.6,96.1 636.9,95.6 637.2,110.4 637.5,82.2 637.8,167.7 638.1,81.6 638.4,94.8 638.7,31.9 639.0,87.3 639.3,43.7 639.6,104.5 639.9,105.0 640.1,97.4 640.4,91.4 640.7,106.7 641.0,110.4 641.3,121.8 641.6,72.7 641.9,102.0 642.2,78.4 642.5,85.9 642.8,123.4 643.1,107.7 643.4,67.5 643.7,109.7 644.0,72.1 644.3,106.8 644.6,100.7 644.9,103.7 645.1,74.7 645.4,104.0 645.7,82.7 646.0,111.4 646.3,101.4 646.6,104.3 646.9,135.6 647.2,101.0 647.5,78.7 647.8,94.7 648.1,127.7 648.4,137.7 648.7,95.3 649.0,112.8 649.3,94.6 649.6,123.2 649.9,120.8 650.1,83.7 650.4,108.6 650.7,86.3 651.0,90.4 651.3,119.3 651.6,123.8 651.9,104.8 652.2,84.6 652.5,92.5 652.8,113.7 653.1,126.2 653.4,100.3 653.7,103.9 654.0,89.4 654.3,97.1 654.6,108.2 654.9,109.9 655.1,121.7 655.4,81.2 655.7,58.0 656.0,91.1 656.3,106.6 656.6,103.7 656.9,74.1 657.2,110.7 657.5,128.7 657.8,114.2 658.1,139.7 658.4,92.4 658.7,87.5 659.0,112.0 659.3,100.6 659.6,106.7 659.9,59.7 660.1,102.0 660.4,91.6 660.7,78.3 661.0,70.7 661.3,104.3 661.6,138.7 661.9,126.3 662.2,89.8 662.5,113.9 662.8,68.3 663.1,68.7 663.4,96.1 663.7,124.9 664.0,85.8 664.3,86.7 664.6,107.0 664.9,100.4 665.1,124.8 665.4,54.7 665.7,104.1 666.0,39.7 666.3,90.5 666.6,48.7 666.9,139.7 667.2,108.4 667.5,102.1 667.8,141.0 668.1,107.3 668.4,122.8 668.7,88.3 669.0,111.1 669.3,89.3 669.6,114.6 669.9,70.7 670.1,112.5 670.4,63.0 670.7,99.8 671.0,104.3 671.3,93.2 671.6,125.4 671.9,95.0 672.2,94.2 672.5,90.1 672.8,100.9 673.1,147.7 673.4,98.0 673.7,134.8 674.0,94.2 674.3,58.9 674.6,115.2 674.9,82.3 675.1,92.6 675.4,92.5 675.7,121.6 676.0,104.9 676.3,83.8 676.6,107.1 676.9,98.6 677.2,90.0 677.5,84.8 677.8,95.3 678.1,79.6 678.4,95.9 678.7,107.1 679.0,104.6 679.3,96.1 679.6,140.7 679.9,65.7 680.1,99.2 680.4,99.0 680.7,105.7 681.0,114.6 681.3,100.0 681.6,80.1 681.9,97.8 682.2,87.1 682.5,91.7 682.8,99.9 683.1,97.0 683.4,99.5 683.7,93.3 684.0,128.7 684.3,99.9 684.6,117.4 684.9,102.9 685.1,98.8 685.4,110.0 685.7,127.5 686.0,94.8 686.3,105.9 686.6,91.0 686.9,88.6 687.2,115.6 687.5,102.5 687.8,68.3 688.1,67.1 688.4,96.3 688.7,82.2 689.0,103.6 689.3,110.2 689.6,89.4 689.9,95.4 690.1,110.5 690.4,96.0 690.7,131.2 691.0,88.4 691.3,102.8 691.6,127.7 691.9,102.7 692.2,95.3 692.5,117.6 692.8,98.5 693.1,89.4 693.4,99.8 693.7,86.4 694.0,106.9 694.3,96.1 694.6,103.1 694.9,98.0 695.1,114.7 695.4,94.7 695.7,113.5 696.0,103.2 696.3,104.3 696.6,105.7 696.9,84.7 697.2,105.6 697.5,94.5 697.8,91.5 698.1,116.7 698.4,96.9 698.7,99.5 699.0,71.4 699.3,79.0 699.6,95.2 699.9,117.0 700.1,88.9 700.4,98.5 700.7,108.0 701.0,107.1 701.3,104.3 701.6,108.8 701.9,99.8 702.2,82.2 702.5,105.1 702.8,94.7 703.1,89.0 703.4,95.8 703.7,100.6 704.0,96.5 704.3,93.6 704.6,91.2 704.9,91.3 705.1,114.7 705.4,77.5 705.7,107.0 706.0,126.1 706.3,101.7 706.6,106.1 706.9,79.0 707.2,95.0 707.5,89.1 707.8,86.6 708.1,91.1 708.4,92.1 708.7,93.7 709.0,92.5 709.3,98.5 709.6,103.1 709.9,92.5 710.1,104.7 710.4,110.1 710.7,119.5 711.0,100.8 711.3,104.6 711.6,95.6 711.9,88.9 712.2,92.3 712.5,114.2 712.8,89.6 713.1,107.4 713.4,102.4 713.7,94.2 714.0,103.9 714.3,107.9 714.6,97.8 714.9,101.0 715.1,89.5 715.4,99.5 715.7,98.6 716.0,109.2 716.3,92.7" stroke="#0000ff" stroke-width="0.52" stroke-opacity="0.9" fill="none"/>
<polyline points="417.5,89.9 417.8,99.8 418.1,96.7 418.4,119.7 418.7,93.3 419.0,102.3 419.3,113.3 419.6,109.4 419.9,99.3 420.1,101.0 420.4,100.5 420.7,92.9 421.0,83.5 421.3,103.8 421.6,102.1 421.9,108.8 422.2,103.8 422.5,83.5 422.8,87.6 423.1,85.0 423.4,79.9 423.7,95.1 424.0,108.0 424.3,99.0 424.6,91.7 424.9,102.0 425.1,101.7 425.4,86.7 425.7,106.1 426.0,107.0 426.3,103.7 426.6,90.9 426.9,88.1 427.2,103.3 427.5,94.2 427.8,101.5 428.1,102.0 428.4,85.8 428.7,111.9 429.0,101.6 429.3,99.5 429.6,101.0 429.9,80.7 430.1,102.6 430.4,108.5 430.7,100.1 431.0,110.6 431.3,96.2 431.6,95.1 431.9,112.2 432.2,88.2 432.5,97.5 432.8,92.2 433.1,86.7 433.4,76.3 433.7,88.4 434.0,97.2 434.3,92.0 434.6,99.2 434.9,94.7 435.1,105.4 435.4,86.8 435.7,90.4 436.0,95.2 436.3,95.7 436.6,89.0 436.9,100.3 437.2,106.7 437.5,98.9 437.8,95.5 438.1,82.4 438.4,105.4 438.7,100.4 439.0,100.9 439.3,98.6 439.6,99.3 439.9,95.1 440.1,106.1 440.4,106.6 440.7,74.5 441.0,106.2 441.3,90.3 441.6,90.2 441.9,104.4 442.2,103.3 442.5,99.0 442.8,93.3 443.1,106.0 443.4,93.2 443.7,99.4 444.0,98.0 444.3,105.8 444.6,97.2 444.9,96.3 445.1,116.7 445.4,100.8 445.7,91.1 446.0,106.1 446.3,78.1 446.6,95.8 446.9,95.6 447.2,101.6 447.5,115.9 447.8,99.2 448.1,107.3 448.4,107.0 448.7,85.8 449.0,102.9 449.3,102.4 449.6,103.9 449.9,80.5 450.1,87.0 450.4,100.0 450.7,95.0 451.0,94.3 451.3,90.0 451.6,95.8 451.9,104.4 452.2,85.1 452.5,100.4 452.8,107.3 453.1,99.1 453.4,101.2 453.7,94.3 454.0,96.9 454.3,101.9 454.6,101.4 454.9,98.7 455.1,89.0 455.4,103.6 455.7,86.3 456.0,94.8 456.3,105.2 456.6,89.5 456.9,93.4 457.2,90.9 457.5,108.9 457.8,95.1 458.1,88.7 458.4,103.3 458.7,105.0 459.0,114.4 459.3,102.9 459.6,100.2 459.9,39.7 460.1,103.4 460.4,97.4 460.7,140.7 461.0,107.5 461.3,103.0 461.6,106.6 461.9,86.6 462.2,103.2 462.5,103.0 462.8,98.8 463.1,100.9 463.4,97.9 463.7,102.4 464.0,98.2 464.3,94.2 464.6,98.7 464.9,97.5 465.1,87.6 465.4,81.7 465.7,92.0 466.0,93.8 466.3,90.0 466.6,93.6 466.9,109.4 467.2,94.6 467.5,86.4 467.8,73.5 468.1,84.2 468.4,91.9 468.7,103.3 469.0,127.7 469.3,96.8 469.6,73.5 469.9,107.5 470.1,89.6 470.4,89.5 470.7,102.6 471.0,102.8 471.3,99.7 471.6,110.3 471.9,96.2 472.2,93.5 472.5,104.4 472.8,97.3 473.1,102.9 473.4,83.5 473.7,94.6 474.0,105.8 474.3,96.2 474.6,99.4 474.9,84.4 475.1,102.4 475.4,86.9 475.7,90.3 476.0,94.0 476.3,100.9 476.6,96.5 476.9,79.6 477.2,105.8 477.5,94.9 477.8,106.9 478.1,93.9 478.4,97.9 478.7,96.6 479.0,104.1 479.3,97.6 479.6,85.3 479.9,101.6 480.1,103.2 480.4,109.9 480.7,92.4 481.0,93.5 481.3,93.7 481.6,105.7 481.9,68.7 482.2,101.1 482.5,90.7 482.8,97.5 483.1,93.8 483.4,89.2 483.7,100.8 484.0,101.7 484.3,100.4 484.6,85.1 484.9,98.5 485.1,106.8 485.4,97.3 485.7,104.0 486.0,99.5 486.3,97.1 486.6,96.2 486.9,106.8 487.2,103.7 487.5,107.7 487.8,104.9 488.1,100.1 488.4,99.4 488.7,101.1 489.0,95.9 489.3,95.3 489.6,96.3 489.9,102.9 490.1,91.6 490.4,101.6 490.7,86.5 491.0,101.6 491.3,86.6 491.6,100.8 491.9,80.4 492.2,82.2 492.5,90.3 492.8,112.5 493.1,88.1 493.4,129.4 493.7,96.5 494.0,102.9 494.3,96.2 494.6,111.9 494.9,96.3 495.1,106.3 495.4,86.4 495.7,76.5 496.0,106.2 496.3,129.8 496.6,106.3 496.9,107.7 497.2,90.2 497.5,80.9 497.8,108.7 498.1,137.1 498.4,103.1 498.7,98.5 499.0,73.1 499.3,102.2 499.6,106.8 499.9,115.9 500.1,90.2 500.4,96.3 500.7,83.3 501.0,93.8 501.3,95.6 501.6,98.6 501.9,111.8 502.2,95.0 502.5,94.8 502.8,54.7 503.1,73.9 503.4,100.2 503.7,120.5 504.0,93.3 504.3,83.4 504.6,96.4 504.9,81.2 505.1,117.4 505.4,91.1 505.7,96.7 506.0,86.2 506.3,101.6 506.6,89.7 506.9,127.1 507.2,109.5 507.5,89.3 507.8,88.7 508.1,103.4 508.4,50.7 508.7,95.5 509.0,118.4 509.3,129.6 509.6,99.0 509.9,110.2 510.1,112.3 510.4,87.3 510.7,97.1 511.0,73.8 511.3,100.3 511.6,118.0 511.9,106.6 512.2,83.5 512.5,107.8 512.8,84.7 513.1,74.1 513.4,104.5 513.7,115.6 514.0,77.8 514.3,101.7 514.6,119.7 514.9,113.6 515.1,89.6 515.4,100.5 515.7,92.3 516.0,99.1 516.3,104.7 516.6,95.1 516.9,116.0 517.2,97.3 517.5,107.8 517.8,108.6 518.1,90.8 518.4,101.0 518.7,102.2 519.0,109.1 519.3,97.7 519.6,101.3 519.9,93.4 520.1,103.0 520.4,103.9 520.7,86.7 521.0,112.4 521.3,111.9 521.6,106.3 521.9,95.6 522.2,89.2 522.5,105.6 522.8,84.2 523.1,92.5 523.4,107.5 523.7,89.0 524.0,92.5 524.3,94.9 524.6,108.9 524.9,97.2 525.1,113.3 525.4,99.2 525.7,110.1 526.0,98.9 526.3,105.2 526.6,105.7 526.9,77.2 527.2,100.5 527.5,105.6 527.8,94.9 528.1,91.7 528.4,103.7 528.7,87.8 529.0,103.6 529.3,93.1 529.6,98.8 529.9,100.9 530.1,96.1 530.4,101.8 530.7,105.3 531.0,96.1 531.3,101.6 531.6,98.8 531.9,98.4 532.2,96.1 532.5,99.1 532.8,89.6 533.1,94.5 533.4,92.1 533.7,85.0 534.0,89.0 534.3,110.6 534.6,92.8 534.9,105.9 535.1,104.9 535.4,98.6 535.7,95.6 536.0,99.8 536.3,102.0 536.6,85.5 536.9,87.5 537.2,95.3 537.5,104.3 537.8,98.1 538.1,92.3 538.4,97.4 538.7,105.6 539.0,81.0 539.3,86.6 539.6,113.3 539.9,102.0 540.1,105.2 540.4,96.6 540.7,92.3 541.0,97.4 541.3,101.9 541.6,99.0 541.9,97.9 542.2,95.7 542.5,109.1 542.8,93.7 543.1,98.7 543.4,91.9 543.7,100.3 544.0,76.1 544.3,101.0 544.6,94.3 544.9,112.7 545.1,99.8 545.4,102.2 545.7,103.1 546.0,104.1 546.3,105.5 546.6,102.0 546.9,86.8 547.2,94.8 547.5,105.7 547.8,107.3 548.1,95.3 548.4,92.1 548.7,98.2 549.0,103.8 549.3,95.9 549.6,90.5 549.9,100.8 550.1,95.1 550.4,102.9 550.7,90.2 551.0,113.9 551.3,104.9 551.6,86.7 551.9,99.5 552.2,98.6 552.5,98.7 552.8,99.0 553.1,108.4 553.4,121.7 553.7,96.1 554.0,103.6 554.3,91.4 554.6,99.4 554.9,95.4 555.1,88.4 555.4,97.6 555.7,107.3 556.0,104.6 556.3,99.3 556.6,101.0 556.9,103.7 557.2,103.9 557.5,91.3 557.8,96.2 558.1,90.7 558.4,96.9 558.7,91.4 559.0,94.5 559.3,95.8 559.6,105.3 559.9,104.2 560.1,92.2 560.4,84.0 560.7,101.9 561.0,103.7 561.3,113.3 561.6,101.9 561.9,100.5 562.2,97.6 562.5,99.6 562.8,100.6 563.1,101.1 563.4,107.0 563.7,107.7 564.0,92.5 564.3,92.6 564.6,113.0 564.9,95.6 565.1,91.9 565.4,106.3 565.7,96.3 566.0,94.3 566.3,103.2 566.6,101.3 566.9,98.2 567.2,98.7 567.5,106.9 567.8,94.9 568.1,100.8 568.4,101.1 568.7,93.5 569.0,109.6 569.3,100.6 569.6,111.8 569.9,100.3 570.1,82.5 570.4,101.7 570.7,96.3 571.0,98.9 571.3,97.6 571.6,104.0 571.9,97.4 572.2,100.3 572.5,95.5 572.8,106.1 573.1,90.3 573.4,104.1 573.7,98.0 574.0,96.9 574.3,94.3 574.6,101.7 574.9,95.7 575.1,99.4 575.4,114.8 575.7,107.2 576.0,100.6 576.3,103.8 576.6,108.3 576.9,98.9 577.2,96.2 577.5,92.4 577.8,93.8 578.1,107.7 578.4,93.6 578.7,103.7 579.0,96.1 579.3,108.6 579.6,93.9 579.9,82.6 580.1,95.3 580.4,100.5 580.7,95.6 581.0,106.8 581.3,98.8 581.6,92.1 581.9,102.9 582.2,95.4 582.5,98.7 582.8,97.3 583.1,98.8 583.4,109.0 583.7,92.1 584.0,88.7 584.3,99.9 584.6,105.5 584.9,109.0 585.1,99.1 585.4,93.9 585.7,99.7 586.0,96.8 586.3,104.5 586.6,92.6 586.9,93.9 587.2,95.9 587.5,102.7 587.8,104.0 588.1,98.5 588.4,98.8 588.7,89.5 589.0,99.3 589.3,85.7 589.6,89.6 589.9,101.0 590.1,110.5 590.4,84.0 590.7,101.0 591.0,100.5 591.3,95.2 591.6,89.1 591.9,95.4 592.2,97.9 592.5,99.6 592.8,97.2 593.1,95.7 593.4,83.7 593.7,101.7 594.0,100.4 594.3,89.0 594.6,92.9 594.9,105.1 595.1,94.3 595.4,107.5 595.7,92.2 596.0,94.8 596.3,98.9 596.6,110.0 596.9,92.4 597.2,101.8 597.5,104.2 597.8,98.5 598.1,105.8 598.4,95.6 598.7,103.5 599.0,100.4 599.3,93.4 599.6,98.1 599.9,98.9 600.1,99.0 600.4,96.0 600.7,96.8 601.0,86.3 601.3,94.5 601.6,101.8 601.9,103.5 602.2,105.4 602.5,96.9 602.8,103.1 603.1,108.1 603.4,98.7 603.7,98.5 604.0,90.3 604.3,99.2 604.6,95.5 604.9,94.0 605.1,95.9 605.4,104.8 605.7,91.5 606.0,96.2 606.3,94.3 606.6,99.5 606.9,98.3 607.2,97.2 607.5,95.7 607.8,95.9 608.1,94.1 608.4,92.4 608.7,97.7 609.0,92.0 609.3,98.7 609.6,99.2 609.9,109.5 610.1,101.7 610.4,103.8 610.7,98.3 611.0,98.5 611.3,101.0 611.6,103.8 611.9,105.2 612.2,103.3 612.5,105.2 612.8,102.9 613.1,108.0 613.4,97.7 613.7,97.2 614.0,97.0 614.3,100.8 614.6,100.3 614.9,101.4 615.1,97.9 615.4,91.3 615.7,97.2 616.0,101.0 616.3,96.2 616.6,91.7 616.9,102.5 617.2,109.5 617.5,96.0 617.8,102.2 618.1,99.7 618.4,94.9 618.7,101.1 619.0,100.6 619.3,99.7 619.6,96.0 619.9,104.5 620.1,88.4 620.4,105.2 620.7,106.3 621.0,98.6 621.3,104.1 621.6,99.8 621.9,99.1 622.2,96.6 622.5,97.4 622.8,89.5 623.1,100.2 623.4,100.8 623.7,98.9 624.0,104.7 624.3,93.3 624.6,85.2 624.9,86.6 625.1,102.5 625.4,100.0 625.7,97.3 626.0,102.1 626.3,100.8 626.6,98.8 626.9,98.0 627.2,99.4 627.5,101.8 627.8,101.3 628.1,97.0 628.4,90.3 628.7,88.3 629.0,101.7 629.3,97.3 629.6,99.8 629.9,102.5 630.1,95.9 630.4,91.0 630.7,98.1 631.0,101.1 631.3,101.9 631.6,92.4 631.9,92.1 632.2,105.9 632.5,108.5 632.8,94.1 633.1,98.6 633.4,96.4 633.7,97.1 634.0,100.4 634.3,98.5 634.6,91.2 634.9,103.1 635.1,98.8 635.4,109.0 635.7,95.9 636.0,100.2 636.3,101.8 636.6,109.6 636.9,99.2 637.2,98.4 637.5,105.5 637.8,96.1 638.1,112.9 638.4,102.5 638.7,90.7 639.0,101.8 639.3,95.4 639.6,93.6 639.9,104.3 640.1,99.0 640.4,99.4 640.7,107.6 641.0,93.8 641.3,106.2 641.6,97.1 641.9,89.6 642.2,95.4 642.5,99.8 642.8,91.6 643.1,97.1 643.4,95.8 643.7,107.0 644.0,89.3 644.3,97.6 644.6,98.3 644.9,105.0 645.1,102.6 645.4,96.2 645.7,108.2 646.0,96.6 646.3,95.6 646.6,98.1 646.9,103.1 647.2,91.0 647.5,91.0 647.8,99.3 648.1,89.5 648.4,95.7 648.7,90.3 649.0,109.0 649.3,90.4 649.6,94.6 649.9,99.6 650.1,98.1 650.4,102.0 650.7,98.5 651.0,98.4 651.3,95.7 651.6,101.8 651.9,104.7 652.2,100.4 652.5,85.5 652.8,105.5 653.1,101.7 653.4,91.5 653.7,92.4 654.0,100.3 654.3,97.8 654.6,99.1 654.9,108.2 655.1,94.6 655.4,94.9 655.7,97.3 656.0,97.7 656.3,91.6 656.6,95.2 656.9,100.9 657.2,101.3 657.5,97.3 657.8,99.4 658.1,86.3 658.4,101.5 658.7,98.8 659.0,88.7 659.3,107.0 659.6,101.3 659.9,95.7 660.1,98.0 660.4,94.3 660.7,88.2 661.0,107.6 661.3,103.1 661.6,104.8 661.9,111.3 662.2,96.3 662.5,103.2 662.8,96.4 663.1,108.0 663.4,93.2 663.7,102.0 664.0,96.2 664.3,95.8 664.6,98.0 664.9,103.0 665.1,104.8 665.4,93.7 665.7,96.6 666.0,94.3 666.3,97.7 666.6,101.8 666.9,100.9 667.2,93.3 667.5,92.7 667.8,104.5 668.1,107.5 668.4,107.5 668.7,97.5 669.0,101.4 669.3,97.6 669.6,95.6 669.9,103.7 670.1,90.9 670.4,105.4 670.7,107.2 671.0,100.6 671.3,105.5 671.6,99.0 671.9,98.5 672.2,97.0 672.5,95.5 672.8,98.1 673.1,110.3 673.4,95.2 673.7,86.8 674.0,96.9 674.3,98.7 674.6,99.9 674.9,93.1 675.1,95.3 675.4,91.6 675.7,83.6 676.0,100.1 676.3,104.3 676.6,101.8 676.9,104.9 677.2,91.3 677.5,91.9 677.8,104.7 678.1,108.1 678.4,104.0 678.7,100.3 679.0,94.9 679.3,92.1 679.6,96.5 679.9,100.2 680.1,103.0 680.4,92.1 680.7,105.8 681.0,101.0 681.3,101.5 681.6,93.0 681.9,98.4 682.2,102.2 682.5,103.7 682.8,96.2 683.1,89.3 683.4,100.6 683.7,103.6 684.0,93.8 684.3,96.9 684.6,97.6 684.9,104.1 685.1,98.8 685.4,100.2 685.7,100.3 686.0,91.1 686.3,92.7 686.6,96.1 686.9,100.7 687.2,101.2 687.5,102.8 687.8,98.6 688.1,98.6 688.4,97.2 688.7,106.4 689.0,99.5 689.3,95.2 689.6,92.9 689.9,105.4 690.1,97.1 690.4,96.6 690.7,101.0 691.0,90.0 691.3,96.8 691.6,95.4 691.9,89.1 692.2,100.1 692.5,103.5 692.8,96.5 693.1,105.7 693.4,102.0 693.7,104.3 694.0,105.7 694.3,104.6 694.6,102.5 694.9,94.0 695.1,98.7 695.4,103.7 695.7,112.6 696.0,104.4 696.3,97.4 696.6,95.0 696.9,104.1 697.2,95.9 697.5,90.7 697.8,102.9 698.1,98.5 698.4,98.9 698.7,100.2 699.0,95.9 699.3,99.8 699.6,104.7 699.9,102.2 700.1,93.2 700.4,103.1 700.7,96.3 701.0,104.9 701.3,100.4 701.6,102.1 701.9,101.0 702.2,100.6 702.5,96.3 702.8,96.9 703.1,95.5 703.4,96.8 703.7,97.5 704.0,89.9 704.3,98.1 704.6,98.6 704.9,101.0 705.1,107.6 705.4,99.6 705.7,96.2 706.0,100.6 706.3,95.0 706.6,97.5 706.9,100.6 707.2,94.5 707.5,97.2 707.8,98.7 708.1,106.8 708.4,103.6 708.7,100.8 709.0,94.3 709.3,100.6 709.6,98.6 709.9,93.7 710.1,108.8 710.4,102.1 710.7,93.8 711.0,98.4 711.3,95.0 711.6,109.9 711.9,91.6 712.2,99.4 712.5,94.4 712.8,99.8 713.1,94.9 713.4,89.2 713.7,103.8 714.0,88.4 714.3,94.0 714.6,96.0 714.9,83.4 715.1,103.4 715.4,87.9 715.7,89.4 716.0,106.1 716.3,99.0" stroke="#ff0000" stroke-width="0.58" stroke-opacity="0.92" fill="none"/>
<rect x="644.5" y="8.9" width="69.0" height="33.0" fill="#fff"/>
<path d="M651.0 17.4H674.0" stroke="#7878ff" stroke-width="1.4"/>
<path d="M651.0 31.4H674.0" stroke="#ff7878" stroke-width="1.4"/>
<text x="676.5" y="21.7" class="t11" style="font-size:11.3px">DDO</text>
<text x="676.5" y="35.7" class="t11" style="font-size:11.3px">RBDO</text>
<path d="M492.25 5.40v4.5M492.25 191.90v-4.5M567.00 5.40v4.5M567.00 191.90v-4.5M641.75 5.40v4.5M641.75 191.90v-4.5M417.50 36.48h4.5M716.50 36.48h-4.5M417.50 67.57h4.5M716.50 67.57h-4.5M417.50 98.65h4.5M716.50 98.65h-4.5M417.50 129.73h4.5M716.50 129.73h-4.5M417.50 160.82h4.5M716.50 160.82h-4.5" stroke="#808080" stroke-width="1.3" fill="none"/>
<rect x="417.50" y="5.40" width="299.00" height="186.50" stroke="#555" stroke-width="1.1" fill="none"/>
<text x="414.5" y="9.3" class="t11" text-anchor="end">0.15</text>
<text x="414.5" y="40.4" class="t11" text-anchor="end">0.1</text>
<text x="414.5" y="71.5" class="t11" text-anchor="end">0.05</text>
<text x="414.5" y="102.6" class="t11" text-anchor="end">0</text>
<text x="414.5" y="133.6" class="t11" text-anchor="end">-0.05</text>
<text x="414.5" y="164.7" class="t11" text-anchor="end">-0.1</text>
<text x="417.5" y="203.7" class="t11" text-anchor="middle">0</text>
<text x="492.2" y="203.7" class="t11" text-anchor="middle">0.1</text>
<text x="567.0" y="203.7" class="t11" text-anchor="middle">0.2</text>
<text x="641.8" y="203.7" class="t11" text-anchor="middle">0.3</text>
<text x="716.5" y="203.7" class="t11" text-anchor="middle">0.4</text>
<path d="M84.1 130.9Q84.7 133.4 87.1 133.4H100.7M105.1 133.4H117.4Q119.8 133.4 120.4 131.5" stroke="#c2c2c2" stroke-width="1.4" fill="none"/><path d="M100.3 133.4Q102.3 133.4 102.9 135.0Q103.5 133.4 105.5 133.4M102.9 134.8V136.9" stroke="#777" stroke-width="1" fill="none"/><path d="M84.1 130.9Q84.7 133.4 87.1 133.4" stroke="#888" stroke-width="1" fill="none"/>
<path d="M218.2 131.3Q218.8 133.6 221.2 133.6H234.3M238.7 133.6H251.4Q253.8 133.6 254.4 131.3" stroke="#c2c2c2" stroke-width="1.4" fill="none"/><path d="M233.9 133.6Q235.9 133.6 236.5 135.2Q237.1 133.6 239.1 133.6M236.5 135.0V137.2" stroke="#777" stroke-width="1" fill="none"/><path d="M218.2 131.3Q218.8 133.6 221.2 133.6" stroke="#888" stroke-width="1" fill="none"/>
<path d="M460.8 143.6Q461.4 146.8 463.8 146.8H475.1M479.5 146.8H490.2Q492.6 146.8 493.2 143.6" stroke="#c2c2c2" stroke-width="1.4" fill="none"/><path d="M474.7 146.8Q476.7 146.8 477.3 148.4Q477.9 146.8 479.9 146.8M477.3 148.2V151.5" stroke="#777" stroke-width="1" fill="none"/><path d="M460.8 143.6Q461.4 146.8 463.8 146.8" stroke="#888" stroke-width="1" fill="none"/>
<path d="M637.3 145.6Q637.9 147.9 640.3 147.9H650.4M654.8 147.9H665.4Q667.8 147.9 668.4 145.6" stroke="#c2c2c2" stroke-width="1.4" fill="none"/><path d="M650.0 147.9Q652.0 147.9 652.6 149.5Q653.2 147.9 655.2 147.9M652.6 149.3V151.5" stroke="#777" stroke-width="1" fill="none"/><path d="M637.3 145.6Q637.9 147.9 640.3 147.9" stroke="#888" stroke-width="1" fill="none"/>
<text x="70.4" y="151.7" class="ann" textLength="64.8" lengthAdjust="spacingAndGlyphs">DDO harvester</text>
<text x="68.8" y="163.8" class="ann" textLength="65.3" lengthAdjust="spacingAndGlyphs">in contact with</text>
<text x="85.5" y="175.9" class="ann" textLength="31.5" lengthAdjust="spacingAndGlyphs">ground</text>
<text x="201.6" y="151.7" class="ann" textLength="66.9" lengthAdjust="spacingAndGlyphs">RBDO harvester</text>
<text x="202.7" y="163.8" class="ann" textLength="64.5" lengthAdjust="spacingAndGlyphs">in contact with</text>
<text x="219.4" y="175.9" class="ann" textLength="31.2" lengthAdjust="spacingAndGlyphs">ground</text>
<text x="442.8" y="160.5" class="ann" textLength="68.3" lengthAdjust="spacingAndGlyphs">RBDO harvester</text>
<text x="443.6" y="172.6" class="ann" textLength="65.1" lengthAdjust="spacingAndGlyphs">in contact with</text>
<text x="459.8" y="184.7" class="ann" textLength="31.4" lengthAdjust="spacingAndGlyphs">ground</text>
<text x="620.8" y="163.0" class="ann" textLength="63.2" lengthAdjust="spacingAndGlyphs">DDO harvester</text>
<text x="618.7" y="175.1" class="ann" textLength="64.9" lengthAdjust="spacingAndGlyphs">in contact with</text>
<text x="635.5" y="187.2" class="ann" textLength="31.4" lengthAdjust="spacingAndGlyphs">ground</text>
<text x="195.5" y="217.2" class="t125" text-anchor="middle">Time (s)</text>
<text x="195.5" y="231.3" class="t125" text-anchor="middle">R=6200 ohm, V=10 km/h</text>
<text x="567" y="216.2" class="t125" text-anchor="middle">Time (s)</text>
<text x="567" y="230.3" class="t125" text-anchor="middle">R=6200 ohm, V=20 km/h</text>
<text transform="translate(11,100.1) rotate(-90)" class="ylab" text-anchor="middle">Voltage (Volts)</text>
<text transform="translate(383.2,99.4) rotate(-90)" class="ylab" text-anchor="middle">Voltage (Volts)</text>
<text x="68.2" y="260.3" class="cap" textLength="214.6" lengthAdjust="spacingAndGlyphs">(a) Voltage output at 10 km/h</text>
<text x="439.3" y="260.3" class="cap" textLength="214.4" lengthAdjust="spacingAndGlyphs">(b) Voltage output at 20 km/h</text>
</svg></body></html>
